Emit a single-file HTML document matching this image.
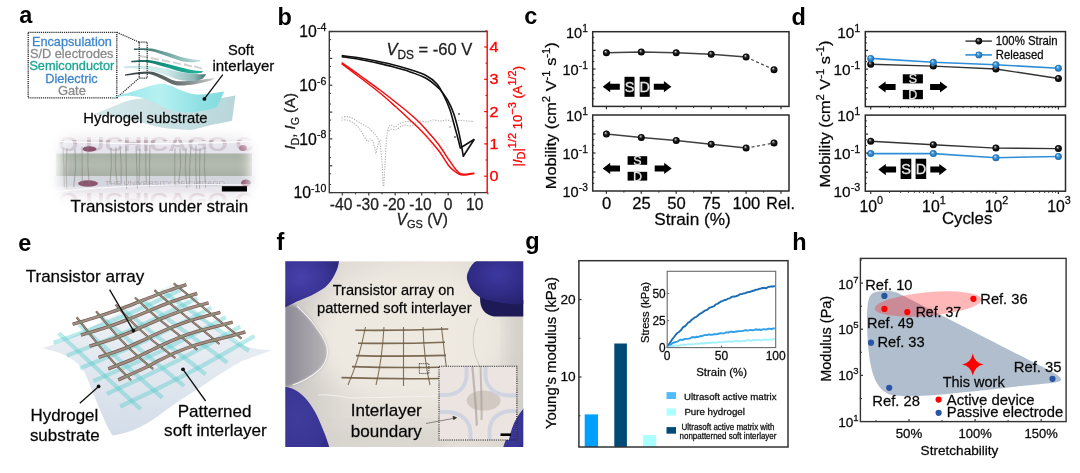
<!DOCTYPE html>
<html><head><meta charset="utf-8"><title>Figure</title>
<style>html,body{margin:0;padding:0;background:#fff;}svg{display:block;}
text{font-family:"Liberation Sans", Arial, sans-serif;}</style></head>
<body><svg width="1080" height="473" viewBox="0 0 1080 473">
<rect width="1080" height="473" fill="#fff"/>
<defs>
<radialGradient id="gk" cx="0.5" cy="0.5" r="0.5" fx="0.36" fy="0.3"><stop offset="0" stop-color="#f4f4f4"/><stop offset="0.22" stop-color="#7a7a7a"/><stop offset="0.5" stop-color="#1a1a1a"/><stop offset="1" stop-color="#000"/></radialGradient>
<radialGradient id="gb" cx="0.5" cy="0.5" r="0.5" fx="0.36" fy="0.3"><stop offset="0" stop-color="#e8f4ff"/><stop offset="0.25" stop-color="#6fb3e6"/><stop offset="0.55" stop-color="#2f8ad0"/><stop offset="1" stop-color="#1d69a8"/></radialGradient>
</defs>
<text x="19.3" y="22.8" font-size="23.5" fill="#000" font-weight="bold" >a</text>
<text x="277.6" y="25.2" font-size="23.5" fill="#000" font-weight="bold" >b</text>
<text x="524.3" y="23.5" font-size="23.5" fill="#000" font-weight="bold" >c</text>
<text x="791.5" y="24.9" font-size="23.5" fill="#000" font-weight="bold" >d</text>
<text x="18.2" y="250.8" font-size="23.5" fill="#000" font-weight="bold" >e</text>
<text x="276.5" y="249.5" font-size="23.5" fill="#000" font-weight="bold" >f</text>
<text x="525.2" y="248.8" font-size="23.5" fill="#000" font-weight="bold" >g</text>
<text x="792.3" y="249.5" font-size="23.5" fill="#000" font-weight="bold" >h</text>
<path d="M341.6,117.5 C342.5,117.3 345.3,116.4 347.0,116.5 C348.7,116.6 350.3,117.2 352.0,118.0 C353.7,118.8 355.3,120.0 357.0,121.0 C358.7,122.0 360.5,123.2 362.0,124.0 C363.5,124.8 364.8,125.3 366.0,126.0 C367.2,126.7 368.0,127.2 369.0,128.0 C370.0,128.8 371.1,130.0 372.0,131.0 C372.9,132.0 373.7,133.0 374.5,134.0 C375.3,135.0 376.2,135.8 377.0,137.0 C377.8,138.2 378.4,139.3 379.0,141.0 C379.6,142.7 380.0,143.5 380.5,147.0 C381.0,150.5 381.5,155.4 382.0,162.0 C382.5,168.6 383.0,186.0 383.5,186.5 C384.0,187.0 384.5,172.8 385.0,165.0 C385.5,157.2 385.9,146.2 386.5,140.0 C387.1,133.8 387.6,130.5 388.3,128.0 C389.1,125.5 389.9,125.2 391.0,125.0 C392.1,124.8 393.7,127.2 395.0,127.0 C396.3,126.8 397.5,124.8 399.0,124.0 C400.5,123.2 402.3,122.4 404.0,122.0 C405.7,121.6 407.2,121.3 409.0,121.5 C410.8,121.7 413.0,123.1 415.0,123.0 C417.0,122.9 419.0,121.2 421.0,121.0 C423.0,120.8 425.0,122.2 427.0,122.0 C429.0,121.8 430.8,120.2 433.0,120.0 C435.2,119.8 437.7,121.0 440.0,121.0 C442.3,121.0 444.8,119.9 447.0,120.0 C449.2,120.1 450.8,121.4 453.0,121.5 C455.2,121.6 457.7,120.6 460.0,120.5 C462.3,120.4 464.7,120.8 467.0,121.0 C469.3,121.2 472.8,121.4 474.0,121.5" fill="none" stroke="#b2b2b2" stroke-width="1.1" stroke-dasharray="1.3 1.3"/>
<path d="M341.6,120.0 C342.5,120.0 345.3,119.7 347.0,120.0 C348.7,120.3 350.3,121.0 352.0,122.0 C353.7,123.0 355.5,124.5 357.0,126.0 C358.5,127.5 359.8,129.3 361.0,131.0 C362.2,132.7 362.9,134.2 364.0,136.0 C365.1,137.8 366.6,141.0 367.6,141.5 C368.6,142.0 369.2,139.1 370.0,139.0 C370.8,138.9 371.8,139.7 372.5,141.0 C373.2,142.3 373.9,144.9 374.5,147.0 C375.1,149.1 375.5,153.7 376.0,153.5 C376.5,153.3 376.9,148.1 377.5,146.0 C378.1,143.9 378.9,142.0 379.5,141.0 C380.1,140.0 380.8,140.2 381.0,140.0" fill="none" stroke="#b2b2b2" stroke-width="1.1" stroke-dasharray="1.3 1.3"/>
<path d="M388.5,131.0 C389.1,130.7 390.8,129.2 392.0,129.0 C393.2,128.8 394.7,130.3 396.0,130.0 C397.3,129.7 398.5,127.8 400.0,127.0 C401.5,126.2 403.3,125.2 405.0,125.0 C406.7,124.8 408.2,126.2 410.0,126.0 C411.8,125.8 415.0,124.3 416.0,124.0" fill="none" stroke="#b2b2b2" stroke-width="1.1" stroke-dasharray="1.3 1.3"/>
<path d="M341.7,55.5 C344.8,55.9 354.4,57.1 360.0,58.0 C365.6,58.9 369.7,59.7 375.0,60.8 C380.3,61.9 386.3,63.1 392.0,64.5 C397.7,65.9 403.3,67.5 409.0,69.3 C414.7,71.1 421.3,73.0 426.0,75.5 C430.7,78.0 433.9,80.4 437.0,84.0 C440.1,87.6 442.3,92.7 444.5,97.0 C446.7,101.3 448.3,105.2 450.0,110.0 C451.7,114.8 453.2,121.3 454.5,126.0 C455.8,130.7 456.8,134.3 457.8,138.0 C458.8,141.7 459.9,146.3 460.3,148.0 L474.3,139.2" fill="none" stroke="#111" stroke-width="1.6" stroke-linejoin="round"/>
<path d="M341.7,56.6 C344.8,57.1 354.4,58.5 360.0,59.5 C365.6,60.5 369.7,61.3 375.0,62.5 C380.3,63.7 386.3,65.0 392.0,66.5 C397.7,68.0 403.3,69.5 409.0,71.4 C414.7,73.4 420.9,75.3 426.0,78.2 C431.1,81.1 435.9,85.4 439.5,89.0 C443.1,92.6 445.2,96.0 447.5,100.0 C449.8,104.0 451.8,108.3 453.5,113.0 C455.2,117.7 456.6,123.2 457.8,128.0 C459.0,132.8 459.9,137.3 460.8,142.0 C461.7,146.7 462.9,153.9 463.3,156.3 L474.3,139.2" fill="none" stroke="#111" stroke-width="1.6" stroke-linejoin="round"/>
<path d="M341.7,62.6 C344.8,64.8 353.6,70.9 360.0,75.5 C366.4,80.1 374.0,85.5 380.0,90.0 C386.0,94.5 391.2,98.7 396.0,102.5 C400.8,106.3 405.0,109.6 409.0,113.0 C413.0,116.4 416.6,119.6 420.0,123.0 C423.4,126.4 425.9,129.5 429.1,133.2 C432.3,136.9 435.6,140.5 439.0,145.0 C442.4,149.5 446.5,156.4 449.2,160.3 C451.9,164.2 453.4,166.4 455.0,168.5 C456.6,170.6 457.7,171.8 459.0,172.8 C460.3,173.8 461.5,174.1 463.0,174.3 C464.5,174.5 466.1,174.2 468.0,174.0 C469.9,173.8 473.2,173.3 474.3,173.2" fill="none" stroke="#f01010" stroke-width="1.5" />
<path d="M341.7,63.6 C344.8,65.9 353.6,72.6 360.0,77.5 C366.4,82.4 374.0,88.1 380.0,93.0 C386.0,97.9 391.2,102.7 396.0,107.0 C400.8,111.3 405.0,115.2 409.0,119.0 C413.0,122.8 416.6,126.1 420.0,129.5 C423.4,132.9 425.9,135.6 429.1,139.2 C432.3,142.8 435.6,146.5 439.0,151.0 C442.4,155.5 446.5,162.9 449.2,166.3 C451.9,169.7 453.4,170.2 455.0,171.5 C456.6,172.8 457.7,173.4 459.0,174.0 C460.3,174.6 461.5,174.8 463.0,174.9 C464.5,175.0 466.1,174.8 468.0,174.6 C469.9,174.3 473.2,173.6 474.3,173.4" fill="none" stroke="#f01010" stroke-width="1.5" />
<path d="M428,137 L437,158" fill="none" stroke="#f7a0a0" stroke-width="0.8" stroke-dasharray="1 1.5"/>
<path d="M439,137 L449,151" fill="none" stroke="#f7a0a0" stroke-width="0.8" stroke-dasharray="1 1.5"/>
<circle cx="459.0" cy="114.0" r="0.9" fill="#555" />
<circle cx="455.0" cy="137.0" r="0.9" fill="#555" />
<circle cx="450.0" cy="127.0" r="0.7" fill="#777" />
<path d="M487.2,31.5 L329.3,31.5 L329.3,192.6 L487.2,192.6" fill="none" stroke="#3a3a3a" stroke-width="1.4" />
<line x1="487.2" y1="30.8" x2="487.2" y2="193.3" stroke="#f00" stroke-width="1.4" />
<line x1="342.3" y1="192.6" x2="342.3" y2="195.4" stroke="#3a3a3a" stroke-width="1.2" />
<line x1="368.8" y1="192.6" x2="368.8" y2="195.4" stroke="#3a3a3a" stroke-width="1.2" />
<line x1="395.2" y1="192.6" x2="395.2" y2="195.4" stroke="#3a3a3a" stroke-width="1.2" />
<line x1="421.7" y1="192.6" x2="421.7" y2="195.4" stroke="#3a3a3a" stroke-width="1.2" />
<line x1="448.2" y1="192.6" x2="448.2" y2="195.4" stroke="#3a3a3a" stroke-width="1.2" />
<line x1="474.7" y1="192.6" x2="474.7" y2="195.4" stroke="#3a3a3a" stroke-width="1.2" />
<line x1="355.5" y1="192.6" x2="355.5" y2="194.4" stroke="#3a3a3a" stroke-width="1.0" />
<line x1="382.0" y1="192.6" x2="382.0" y2="194.4" stroke="#3a3a3a" stroke-width="1.0" />
<line x1="408.5" y1="192.6" x2="408.5" y2="194.4" stroke="#3a3a3a" stroke-width="1.0" />
<line x1="435.0" y1="192.6" x2="435.0" y2="194.4" stroke="#3a3a3a" stroke-width="1.0" />
<line x1="461.4" y1="192.6" x2="461.4" y2="194.4" stroke="#3a3a3a" stroke-width="1.0" />
<line x1="487.9" y1="192.6" x2="487.9" y2="194.4" stroke="#3a3a3a" stroke-width="1.0" />
<line x1="329.3" y1="31.5" x2="332.3" y2="31.5" stroke="#3a3a3a" stroke-width="1.2" />
<line x1="329.3" y1="50.3" x2="331.1" y2="50.3" stroke="#3a3a3a" stroke-width="1.0" />
<line x1="329.3" y1="39.6" x2="331.1" y2="39.6" stroke="#3a3a3a" stroke-width="1.0" />
<line x1="329.3" y1="58.4" x2="332.3" y2="58.4" stroke="#3a3a3a" stroke-width="1.2" />
<line x1="329.3" y1="77.1" x2="331.1" y2="77.1" stroke="#3a3a3a" stroke-width="1.0" />
<line x1="329.3" y1="66.4" x2="331.1" y2="66.4" stroke="#3a3a3a" stroke-width="1.0" />
<line x1="329.3" y1="85.2" x2="332.3" y2="85.2" stroke="#3a3a3a" stroke-width="1.2" />
<line x1="329.3" y1="104.0" x2="331.1" y2="104.0" stroke="#3a3a3a" stroke-width="1.0" />
<line x1="329.3" y1="93.3" x2="331.1" y2="93.3" stroke="#3a3a3a" stroke-width="1.0" />
<line x1="329.3" y1="112.1" x2="332.3" y2="112.1" stroke="#3a3a3a" stroke-width="1.2" />
<line x1="329.3" y1="130.8" x2="331.1" y2="130.8" stroke="#3a3a3a" stroke-width="1.0" />
<line x1="329.3" y1="120.1" x2="331.1" y2="120.1" stroke="#3a3a3a" stroke-width="1.0" />
<line x1="329.3" y1="138.9" x2="332.3" y2="138.9" stroke="#3a3a3a" stroke-width="1.2" />
<line x1="329.3" y1="157.7" x2="331.1" y2="157.7" stroke="#3a3a3a" stroke-width="1.0" />
<line x1="329.3" y1="147.0" x2="331.1" y2="147.0" stroke="#3a3a3a" stroke-width="1.0" />
<line x1="329.3" y1="165.8" x2="332.3" y2="165.8" stroke="#3a3a3a" stroke-width="1.2" />
<line x1="329.3" y1="184.5" x2="331.1" y2="184.5" stroke="#3a3a3a" stroke-width="1.0" />
<line x1="329.3" y1="173.8" x2="331.1" y2="173.8" stroke="#3a3a3a" stroke-width="1.0" />
<line x1="329.3" y1="192.6" x2="332.3" y2="192.6" stroke="#3a3a3a" stroke-width="1.2" />
<line x1="487.2" y1="176.2" x2="484.2" y2="176.2" stroke="#f00" stroke-width="1.2" />
<line x1="487.2" y1="160.0" x2="485.4" y2="160.0" stroke="#f00" stroke-width="1.0" />
<line x1="487.2" y1="143.9" x2="484.2" y2="143.9" stroke="#f00" stroke-width="1.2" />
<line x1="487.2" y1="127.8" x2="485.4" y2="127.8" stroke="#f00" stroke-width="1.0" />
<line x1="487.2" y1="111.6" x2="484.2" y2="111.6" stroke="#f00" stroke-width="1.2" />
<line x1="487.2" y1="95.4" x2="485.4" y2="95.4" stroke="#f00" stroke-width="1.0" />
<line x1="487.2" y1="79.3" x2="484.2" y2="79.3" stroke="#f00" stroke-width="1.2" />
<line x1="487.2" y1="63.2" x2="485.4" y2="63.2" stroke="#f00" stroke-width="1.0" />
<line x1="487.2" y1="47.0" x2="484.2" y2="47.0" stroke="#f00" stroke-width="1.2" />
<line x1="487.2" y1="30.8" x2="485.4" y2="30.8" stroke="#f00" stroke-width="1.0" />
<line x1="487.2" y1="192.3" x2="485.4" y2="192.3" stroke="#f00" stroke-width="1.0" />
<text x="341.1" y="209.6" font-size="15.6" fill="#222" stroke="#222" stroke-width="0.28" text-anchor="middle" >-40</text>
<text x="367.6" y="209.6" font-size="15.6" fill="#222" stroke="#222" stroke-width="0.28" text-anchor="middle" >-30</text>
<text x="394.0" y="209.6" font-size="15.6" fill="#222" stroke="#222" stroke-width="0.28" text-anchor="middle" >-20</text>
<text x="420.5" y="209.6" font-size="15.6" fill="#222" stroke="#222" stroke-width="0.28" text-anchor="middle" >-10</text>
<text x="448.2" y="209.6" font-size="15.6" fill="#222" stroke="#222" stroke-width="0.28" text-anchor="middle" >0</text>
<text x="474.7" y="209.6" font-size="15.6" fill="#222" stroke="#222" stroke-width="0.28" text-anchor="middle" >10</text>
<text x="326.3" y="37.3" font-size="15.8" stroke="#1e1e1e" stroke-width="0.28" text-anchor="end" >10<tspan dy="-6.5" font-size="10.6">-4</tspan></text>
<text x="326.3" y="91.0" font-size="15.8" stroke="#1e1e1e" stroke-width="0.28" text-anchor="end" >10<tspan dy="-6.5" font-size="10.6">-6</tspan></text>
<text x="326.3" y="144.7" font-size="15.8" stroke="#1e1e1e" stroke-width="0.28" text-anchor="end" >10<tspan dy="-6.5" font-size="10.6">-8</tspan></text>
<text x="326.3" y="198.4" font-size="15.8" stroke="#1e1e1e" stroke-width="0.28" text-anchor="end" >10<tspan dy="-6.5" font-size="10.6">-10</tspan></text>
<text x="489.6" y="181.2" font-size="13.8" fill="#f00" stroke="#f00" stroke-width="0.28" textLength="9.0" lengthAdjust="spacingAndGlyphs" >0</text>
<text x="489.6" y="148.9" font-size="13.8" fill="#f00" stroke="#f00" stroke-width="0.28" textLength="9.0" lengthAdjust="spacingAndGlyphs" >1</text>
<text x="489.6" y="116.6" font-size="13.8" fill="#f00" stroke="#f00" stroke-width="0.28" textLength="9.0" lengthAdjust="spacingAndGlyphs" >2</text>
<text x="489.6" y="84.3" font-size="13.8" fill="#f00" stroke="#f00" stroke-width="0.28" textLength="9.0" lengthAdjust="spacingAndGlyphs" >3</text>
<text x="489.6" y="52.0" font-size="13.8" fill="#f00" stroke="#f00" stroke-width="0.28" textLength="9.0" lengthAdjust="spacingAndGlyphs" >4</text>
<text x="396.5" y="224.5" font-size="15.6" fill="#222" stroke="#222" stroke-width="0.28" ><tspan font-style="italic">V</tspan><tspan dy="3.5" font-size="11">GS</tspan><tspan dy="-3.5"> (V)</tspan></text>
<text x="295.0" y="149.5" font-size="15.0" fill="#222" stroke="#222" stroke-width="0.28" transform="rotate(-90 295.0 149.5)" ><tspan font-style="italic">I</tspan><tspan dy="3.5" font-size="10.5">D</tspan><tspan dy="-3.5">, </tspan><tspan font-style="italic">I</tspan><tspan dy="3.5" font-size="10.5">G</tspan><tspan dy="-3.5"> (A)</tspan></text>
<text x="521.5" y="166.5" font-size="13.0" fill="#f00" stroke="#f00" stroke-width="0.28" transform="rotate(-90 521.5 166.5)" >|<tspan font-style="italic">I</tspan><tspan dy="3.5" font-size="11">D</tspan><tspan dy="-3.5">|</tspan><tspan dy="-6" font-size="11">1/2</tspan><tspan dy="6"> 10</tspan><tspan dy="-6" font-size="11">−3</tspan><tspan dy="6"> (A</tspan><tspan dy="-6" font-size="11">1/2</tspan><tspan dy="6">)</tspan></text>
<text x="386.4" y="55.4" font-size="16.8" fill="#222" stroke="#222" stroke-width="0.28" textLength="86.0" lengthAdjust="spacingAndGlyphs" ><tspan font-style="italic">V</tspan><tspan dy="4" font-size="12">DS</tspan><tspan dy="-4"> = -60 V</tspan></text>
<path d="M606.4,52.8 L641.3,52.1 L676.2,52.8 L711.2,54.2 L746.1,57.0" fill="none" stroke="#404040" stroke-width="1.5" />
<path d="M746.1,57.0 L774.0,69.7" fill="none" stroke="#505050" stroke-width="1.3" stroke-dasharray="3 2.5"/>
<circle cx="606.4" cy="52.8" r="3.5" fill="url(#gk)"/>
<circle cx="641.3" cy="52.1" r="3.5" fill="url(#gk)"/>
<circle cx="676.2" cy="52.8" r="3.5" fill="url(#gk)"/>
<circle cx="711.2" cy="54.2" r="3.5" fill="url(#gk)"/>
<circle cx="746.1" cy="57.0" r="3.5" fill="url(#gk)"/>
<circle cx="774.0" cy="69.7" r="3.5" fill="url(#gk)"/>
<rect x="592.7" y="31.7" width="196.3" height="74.7" fill="none" stroke="#2a2a2a" stroke-width="1.5" />
<line x1="606.4" y1="106.4" x2="606.4" y2="109.2" stroke="#2a2a2a" stroke-width="1.2" />
<line x1="641.3" y1="106.4" x2="641.3" y2="109.2" stroke="#2a2a2a" stroke-width="1.2" />
<line x1="676.2" y1="106.4" x2="676.2" y2="109.2" stroke="#2a2a2a" stroke-width="1.2" />
<line x1="711.2" y1="106.4" x2="711.2" y2="109.2" stroke="#2a2a2a" stroke-width="1.2" />
<line x1="746.1" y1="106.4" x2="746.1" y2="109.2" stroke="#2a2a2a" stroke-width="1.2" />
<line x1="781.0" y1="106.4" x2="781.0" y2="109.2" stroke="#2a2a2a" stroke-width="1.2" />
<line x1="623.9" y1="106.4" x2="623.9" y2="108.0" stroke="#2a2a2a" stroke-width="1.0" />
<line x1="658.8" y1="106.4" x2="658.8" y2="108.0" stroke="#2a2a2a" stroke-width="1.0" />
<line x1="693.7" y1="106.4" x2="693.7" y2="108.0" stroke="#2a2a2a" stroke-width="1.0" />
<line x1="728.6" y1="106.4" x2="728.6" y2="108.0" stroke="#2a2a2a" stroke-width="1.0" />
<line x1="763.6" y1="106.4" x2="763.6" y2="108.0" stroke="#2a2a2a" stroke-width="1.0" />
<line x1="592.7" y1="50.4" x2="595.5" y2="50.4" stroke="#2a2a2a" stroke-width="1.2" />
<line x1="592.7" y1="69.0" x2="595.5" y2="69.0" stroke="#2a2a2a" stroke-width="1.2" />
<line x1="592.7" y1="87.7" x2="595.5" y2="87.7" stroke="#2a2a2a" stroke-width="1.2" />
<line x1="592.7" y1="37.3" x2="594.3" y2="37.3" stroke="#2a2a2a" stroke-width="1.0" />
<line x1="592.7" y1="42.9" x2="594.3" y2="42.9" stroke="#2a2a2a" stroke-width="1.0" />
<line x1="592.7" y1="56.0" x2="594.3" y2="56.0" stroke="#2a2a2a" stroke-width="1.0" />
<line x1="592.7" y1="61.6" x2="594.3" y2="61.6" stroke="#2a2a2a" stroke-width="1.0" />
<line x1="592.7" y1="74.7" x2="594.3" y2="74.7" stroke="#2a2a2a" stroke-width="1.0" />
<line x1="592.7" y1="80.3" x2="594.3" y2="80.3" stroke="#2a2a2a" stroke-width="1.0" />
<line x1="592.7" y1="93.3" x2="594.3" y2="93.3" stroke="#2a2a2a" stroke-width="1.0" />
<line x1="592.7" y1="98.9" x2="594.3" y2="98.9" stroke="#2a2a2a" stroke-width="1.0" />
<text x="587.8" y="37.7" font-size="14.6" stroke="#1e1e1e" stroke-width="0.28" text-anchor="end" >10<tspan dy="-6.0" font-size="10.2">1</tspan></text>
<text x="587.8" y="75.0" font-size="14.6" stroke="#1e1e1e" stroke-width="0.28" text-anchor="end" >10<tspan dy="-6.0" font-size="10.2">-1</tspan></text>
<path d="M606.4,134.1 L641.3,137.4 L676.2,140.5 L711.2,144.3 L746.1,148.1" fill="none" stroke="#404040" stroke-width="1.5" />
<path d="M746.1,148.1 L774.0,143.0" fill="none" stroke="#505050" stroke-width="1.3" stroke-dasharray="3 2.5"/>
<circle cx="606.4" cy="134.1" r="3.5" fill="url(#gk)"/>
<circle cx="641.3" cy="137.4" r="3.5" fill="url(#gk)"/>
<circle cx="676.2" cy="140.5" r="3.5" fill="url(#gk)"/>
<circle cx="711.2" cy="144.3" r="3.5" fill="url(#gk)"/>
<circle cx="746.1" cy="148.1" r="3.5" fill="url(#gk)"/>
<circle cx="774.0" cy="143.0" r="3.5" fill="url(#gk)"/>
<rect x="592.7" y="115.0" width="196.3" height="76.0" fill="none" stroke="#2a2a2a" stroke-width="1.5" />
<line x1="606.4" y1="191.0" x2="606.4" y2="193.8" stroke="#2a2a2a" stroke-width="1.2" />
<line x1="641.3" y1="191.0" x2="641.3" y2="193.8" stroke="#2a2a2a" stroke-width="1.2" />
<line x1="676.2" y1="191.0" x2="676.2" y2="193.8" stroke="#2a2a2a" stroke-width="1.2" />
<line x1="711.2" y1="191.0" x2="711.2" y2="193.8" stroke="#2a2a2a" stroke-width="1.2" />
<line x1="746.1" y1="191.0" x2="746.1" y2="193.8" stroke="#2a2a2a" stroke-width="1.2" />
<line x1="781.0" y1="191.0" x2="781.0" y2="193.8" stroke="#2a2a2a" stroke-width="1.2" />
<line x1="623.9" y1="191.0" x2="623.9" y2="192.6" stroke="#2a2a2a" stroke-width="1.0" />
<line x1="658.8" y1="191.0" x2="658.8" y2="192.6" stroke="#2a2a2a" stroke-width="1.0" />
<line x1="693.7" y1="191.0" x2="693.7" y2="192.6" stroke="#2a2a2a" stroke-width="1.0" />
<line x1="728.6" y1="191.0" x2="728.6" y2="192.6" stroke="#2a2a2a" stroke-width="1.0" />
<line x1="763.6" y1="191.0" x2="763.6" y2="192.6" stroke="#2a2a2a" stroke-width="1.0" />
<line x1="592.7" y1="134.0" x2="595.5" y2="134.0" stroke="#2a2a2a" stroke-width="1.2" />
<line x1="592.7" y1="153.0" x2="595.5" y2="153.0" stroke="#2a2a2a" stroke-width="1.2" />
<line x1="592.7" y1="172.0" x2="595.5" y2="172.0" stroke="#2a2a2a" stroke-width="1.2" />
<line x1="592.7" y1="120.7" x2="594.3" y2="120.7" stroke="#2a2a2a" stroke-width="1.0" />
<line x1="592.7" y1="126.4" x2="594.3" y2="126.4" stroke="#2a2a2a" stroke-width="1.0" />
<line x1="592.7" y1="139.7" x2="594.3" y2="139.7" stroke="#2a2a2a" stroke-width="1.0" />
<line x1="592.7" y1="145.4" x2="594.3" y2="145.4" stroke="#2a2a2a" stroke-width="1.0" />
<line x1="592.7" y1="158.7" x2="594.3" y2="158.7" stroke="#2a2a2a" stroke-width="1.0" />
<line x1="592.7" y1="164.4" x2="594.3" y2="164.4" stroke="#2a2a2a" stroke-width="1.0" />
<line x1="592.7" y1="177.7" x2="594.3" y2="177.7" stroke="#2a2a2a" stroke-width="1.0" />
<line x1="592.7" y1="183.4" x2="594.3" y2="183.4" stroke="#2a2a2a" stroke-width="1.0" />
<text x="587.8" y="121.0" font-size="14.6" stroke="#1e1e1e" stroke-width="0.28" text-anchor="end" >10<tspan dy="-6.0" font-size="10.2">1</tspan></text>
<text x="587.8" y="159.0" font-size="14.6" stroke="#1e1e1e" stroke-width="0.28" text-anchor="end" >10<tspan dy="-6.0" font-size="10.2">-1</tspan></text>
<text x="587.8" y="197.0" font-size="14.6" stroke="#1e1e1e" stroke-width="0.28" text-anchor="end" >10<tspan dy="-6.0" font-size="10.2">-3</tspan></text>
<path d="M602.7,86.7 L610.2,81.1 L610.2,83.7 L619.8,83.7 L619.8,89.7 L610.2,89.7 L610.2,92.3Z" fill="#000" stroke="none" stroke-width="1" />
<rect x="624.5" y="76.8" width="10.0" height="20.0" fill="#000" stroke="none" stroke-width="1" />
<text x="629.5" y="92.0" font-size="14.5" fill="#e4e4e4" text-anchor="middle" stroke="#e4e4e4" stroke-width="0.3">S</text>
<rect x="639.7" y="76.8" width="10.0" height="20.0" fill="#000" stroke="none" stroke-width="1" />
<text x="644.7" y="92.0" font-size="14.5" fill="#e4e4e4" text-anchor="middle" stroke="#e4e4e4" stroke-width="0.3">D</text>
<path d="M671.4,86.7 L663.9,81.1 L663.9,83.7 L653.8,83.7 L653.8,89.7 L663.9,89.7 L663.9,92.3Z" fill="#000" stroke="none" stroke-width="1" />
<path d="M602.7,168.4 L610.2,162.8 L610.2,165.4 L620.0,165.4 L620.0,171.4 L610.2,171.4 L610.2,174.0Z" fill="#000" stroke="none" stroke-width="1" />
<rect x="627.6" y="156.2" width="19.6" height="8.6" fill="#000" stroke="none" stroke-width="1" />
<text x="637.4" y="165.0" font-size="12.5" fill="#e4e4e4" text-anchor="middle" stroke="#e4e4e4" stroke-width="0.3">S</text>
<rect x="627.6" y="171.8" width="19.6" height="8.8" fill="#000" stroke="none" stroke-width="1" />
<text x="637.4" y="180.7" font-size="12.5" fill="#e4e4e4" text-anchor="middle" stroke="#e4e4e4" stroke-width="0.3">D</text>
<path d="M671.7,168.4 L664.2,162.8 L664.2,165.4 L654.7,165.4 L654.7,171.4 L664.2,171.4 L664.2,174.0Z" fill="#000" stroke="none" stroke-width="1" />
<text x="606.7" y="209.0" font-size="16.6" stroke="#1e1e1e" stroke-width="0.28" text-anchor="middle" >0</text>
<text x="641.6" y="209.0" font-size="16.6" stroke="#1e1e1e" stroke-width="0.28" text-anchor="middle" >25</text>
<text x="676.5" y="209.0" font-size="16.6" stroke="#1e1e1e" stroke-width="0.28" text-anchor="middle" >50</text>
<text x="711.5" y="209.0" font-size="16.6" stroke="#1e1e1e" stroke-width="0.28" text-anchor="middle" >75</text>
<text x="746.4" y="209.0" font-size="16.6" stroke="#1e1e1e" stroke-width="0.28" text-anchor="middle" >100</text>
<text x="780.6" y="209.0" font-size="16.2" stroke="#1e1e1e" stroke-width="0.28" text-anchor="middle" textLength="28.5" lengthAdjust="spacingAndGlyphs" >Rel.</text>
<text x="654.3" y="224.5" font-size="16.3" stroke="#1e1e1e" stroke-width="0.28" textLength="76.5" lengthAdjust="spacingAndGlyphs" >Strain (%)</text>
<text x="555.8" y="189.2" font-size="15.2" stroke="#1e1e1e" stroke-width="0.28" textLength="147.0" lengthAdjust="spacingAndGlyphs" transform="rotate(-90 555.8 189.2)" >Mobility (cm<tspan dy="-6" font-size="10.5">2</tspan><tspan dy="6"> V</tspan><tspan dy="-6" font-size="10.5">-1</tspan><tspan dy="6"> s</tspan><tspan dy="-6" font-size="10.5">-1</tspan><tspan dy="6">)</tspan></text>
<path d="M870.7,64.2 L933.3,66.1 L995.9,69.0 L1058.4,78.5" fill="none" stroke="#333" stroke-width="1.4" />
<path d="M870.7,58.4 L933.3,62.3 L995.9,64.8 L1058.4,68.2" fill="none" stroke="#2f8fd6" stroke-width="1.6" />
<circle cx="870.7" cy="64.2" r="3.5" fill="url(#gk)"/>
<circle cx="933.3" cy="66.1" r="3.5" fill="url(#gk)"/>
<circle cx="995.9" cy="69.0" r="3.5" fill="url(#gk)"/>
<circle cx="1058.4" cy="78.5" r="3.5" fill="url(#gk)"/>
<circle cx="870.7" cy="58.4" r="3.5" fill="url(#gb)"/>
<circle cx="933.3" cy="62.3" r="3.5" fill="url(#gb)"/>
<circle cx="995.9" cy="64.8" r="3.5" fill="url(#gb)"/>
<circle cx="1058.4" cy="68.2" r="3.5" fill="url(#gb)"/>
<rect x="865.3" y="31.6" width="200.2" height="75.0" fill="none" stroke="#2a2a2a" stroke-width="1.5" />
<line x1="870.7" y1="106.6" x2="870.7" y2="109.4" stroke="#2a2a2a" stroke-width="1.2" />
<line x1="933.3" y1="106.6" x2="933.3" y2="109.4" stroke="#2a2a2a" stroke-width="1.2" />
<line x1="995.9" y1="106.6" x2="995.9" y2="109.4" stroke="#2a2a2a" stroke-width="1.2" />
<line x1="1058.4" y1="106.6" x2="1058.4" y2="109.4" stroke="#2a2a2a" stroke-width="1.2" />
<line x1="889.5" y1="106.6" x2="889.5" y2="108.2" stroke="#2a2a2a" stroke-width="1.0" />
<line x1="900.6" y1="106.6" x2="900.6" y2="108.2" stroke="#2a2a2a" stroke-width="1.0" />
<line x1="908.4" y1="106.6" x2="908.4" y2="108.2" stroke="#2a2a2a" stroke-width="1.0" />
<line x1="914.4" y1="106.6" x2="914.4" y2="108.2" stroke="#2a2a2a" stroke-width="1.0" />
<line x1="919.4" y1="106.6" x2="919.4" y2="108.2" stroke="#2a2a2a" stroke-width="1.0" />
<line x1="923.6" y1="106.6" x2="923.6" y2="108.2" stroke="#2a2a2a" stroke-width="1.0" />
<line x1="927.2" y1="106.6" x2="927.2" y2="108.2" stroke="#2a2a2a" stroke-width="1.0" />
<line x1="930.4" y1="106.6" x2="930.4" y2="108.2" stroke="#2a2a2a" stroke-width="1.0" />
<line x1="952.1" y1="106.6" x2="952.1" y2="108.2" stroke="#2a2a2a" stroke-width="1.0" />
<line x1="963.1" y1="106.6" x2="963.1" y2="108.2" stroke="#2a2a2a" stroke-width="1.0" />
<line x1="971.0" y1="106.6" x2="971.0" y2="108.2" stroke="#2a2a2a" stroke-width="1.0" />
<line x1="977.0" y1="106.6" x2="977.0" y2="108.2" stroke="#2a2a2a" stroke-width="1.0" />
<line x1="982.0" y1="106.6" x2="982.0" y2="108.2" stroke="#2a2a2a" stroke-width="1.0" />
<line x1="986.2" y1="106.6" x2="986.2" y2="108.2" stroke="#2a2a2a" stroke-width="1.0" />
<line x1="989.8" y1="106.6" x2="989.8" y2="108.2" stroke="#2a2a2a" stroke-width="1.0" />
<line x1="993.0" y1="106.6" x2="993.0" y2="108.2" stroke="#2a2a2a" stroke-width="1.0" />
<line x1="1014.7" y1="106.6" x2="1014.7" y2="108.2" stroke="#2a2a2a" stroke-width="1.0" />
<line x1="1025.7" y1="106.6" x2="1025.7" y2="108.2" stroke="#2a2a2a" stroke-width="1.0" />
<line x1="1033.5" y1="106.6" x2="1033.5" y2="108.2" stroke="#2a2a2a" stroke-width="1.0" />
<line x1="1039.6" y1="106.6" x2="1039.6" y2="108.2" stroke="#2a2a2a" stroke-width="1.0" />
<line x1="1044.6" y1="106.6" x2="1044.6" y2="108.2" stroke="#2a2a2a" stroke-width="1.0" />
<line x1="1048.7" y1="106.6" x2="1048.7" y2="108.2" stroke="#2a2a2a" stroke-width="1.0" />
<line x1="1052.4" y1="106.6" x2="1052.4" y2="108.2" stroke="#2a2a2a" stroke-width="1.0" />
<line x1="1055.6" y1="106.6" x2="1055.6" y2="108.2" stroke="#2a2a2a" stroke-width="1.0" />
<line x1="865.3" y1="50.4" x2="868.1" y2="50.4" stroke="#2a2a2a" stroke-width="1.2" />
<line x1="865.3" y1="69.1" x2="868.1" y2="69.1" stroke="#2a2a2a" stroke-width="1.2" />
<line x1="865.3" y1="87.8" x2="868.1" y2="87.8" stroke="#2a2a2a" stroke-width="1.2" />
<line x1="865.3" y1="37.2" x2="866.9" y2="37.2" stroke="#2a2a2a" stroke-width="1.0" />
<line x1="865.3" y1="42.9" x2="866.9" y2="42.9" stroke="#2a2a2a" stroke-width="1.0" />
<line x1="865.3" y1="56.0" x2="866.9" y2="56.0" stroke="#2a2a2a" stroke-width="1.0" />
<line x1="865.3" y1="61.6" x2="866.9" y2="61.6" stroke="#2a2a2a" stroke-width="1.0" />
<line x1="865.3" y1="74.7" x2="866.9" y2="74.7" stroke="#2a2a2a" stroke-width="1.0" />
<line x1="865.3" y1="80.3" x2="866.9" y2="80.3" stroke="#2a2a2a" stroke-width="1.0" />
<line x1="865.3" y1="93.5" x2="866.9" y2="93.5" stroke="#2a2a2a" stroke-width="1.0" />
<line x1="865.3" y1="99.1" x2="866.9" y2="99.1" stroke="#2a2a2a" stroke-width="1.0" />
<text x="860.3" y="37.6" font-size="15.4" stroke="#1e1e1e" stroke-width="0.28" text-anchor="end" >10<tspan dy="-6.0" font-size="10.8">1</tspan></text>
<text x="860.3" y="75.1" font-size="15.4" stroke="#1e1e1e" stroke-width="0.28" text-anchor="end" >10<tspan dy="-6.0" font-size="10.8">-1</tspan></text>
<path d="M870.7,141.2 L933.3,144.7 L995.9,148.1 L1058.4,148.6" fill="none" stroke="#333" stroke-width="1.4" />
<path d="M870.7,153.6 L933.3,153.6 L995.9,157.7 L1058.4,156.5" fill="none" stroke="#2f8fd6" stroke-width="1.6" />
<circle cx="870.7" cy="141.2" r="3.5" fill="url(#gk)"/>
<circle cx="933.3" cy="144.7" r="3.5" fill="url(#gk)"/>
<circle cx="995.9" cy="148.1" r="3.5" fill="url(#gk)"/>
<circle cx="1058.4" cy="148.6" r="3.5" fill="url(#gk)"/>
<circle cx="870.7" cy="153.6" r="3.5" fill="url(#gb)"/>
<circle cx="933.3" cy="153.6" r="3.5" fill="url(#gb)"/>
<circle cx="995.9" cy="157.7" r="3.5" fill="url(#gb)"/>
<circle cx="1058.4" cy="156.5" r="3.5" fill="url(#gb)"/>
<rect x="865.3" y="115.1" width="200.2" height="76.1" fill="none" stroke="#2a2a2a" stroke-width="1.5" />
<line x1="870.7" y1="191.2" x2="870.7" y2="194.0" stroke="#2a2a2a" stroke-width="1.2" />
<line x1="933.3" y1="191.2" x2="933.3" y2="194.0" stroke="#2a2a2a" stroke-width="1.2" />
<line x1="995.9" y1="191.2" x2="995.9" y2="194.0" stroke="#2a2a2a" stroke-width="1.2" />
<line x1="1058.4" y1="191.2" x2="1058.4" y2="194.0" stroke="#2a2a2a" stroke-width="1.2" />
<line x1="889.5" y1="191.2" x2="889.5" y2="192.8" stroke="#2a2a2a" stroke-width="1.0" />
<line x1="900.6" y1="191.2" x2="900.6" y2="192.8" stroke="#2a2a2a" stroke-width="1.0" />
<line x1="908.4" y1="191.2" x2="908.4" y2="192.8" stroke="#2a2a2a" stroke-width="1.0" />
<line x1="914.4" y1="191.2" x2="914.4" y2="192.8" stroke="#2a2a2a" stroke-width="1.0" />
<line x1="919.4" y1="191.2" x2="919.4" y2="192.8" stroke="#2a2a2a" stroke-width="1.0" />
<line x1="923.6" y1="191.2" x2="923.6" y2="192.8" stroke="#2a2a2a" stroke-width="1.0" />
<line x1="927.2" y1="191.2" x2="927.2" y2="192.8" stroke="#2a2a2a" stroke-width="1.0" />
<line x1="930.4" y1="191.2" x2="930.4" y2="192.8" stroke="#2a2a2a" stroke-width="1.0" />
<line x1="952.1" y1="191.2" x2="952.1" y2="192.8" stroke="#2a2a2a" stroke-width="1.0" />
<line x1="963.1" y1="191.2" x2="963.1" y2="192.8" stroke="#2a2a2a" stroke-width="1.0" />
<line x1="971.0" y1="191.2" x2="971.0" y2="192.8" stroke="#2a2a2a" stroke-width="1.0" />
<line x1="977.0" y1="191.2" x2="977.0" y2="192.8" stroke="#2a2a2a" stroke-width="1.0" />
<line x1="982.0" y1="191.2" x2="982.0" y2="192.8" stroke="#2a2a2a" stroke-width="1.0" />
<line x1="986.2" y1="191.2" x2="986.2" y2="192.8" stroke="#2a2a2a" stroke-width="1.0" />
<line x1="989.8" y1="191.2" x2="989.8" y2="192.8" stroke="#2a2a2a" stroke-width="1.0" />
<line x1="993.0" y1="191.2" x2="993.0" y2="192.8" stroke="#2a2a2a" stroke-width="1.0" />
<line x1="1014.7" y1="191.2" x2="1014.7" y2="192.8" stroke="#2a2a2a" stroke-width="1.0" />
<line x1="1025.7" y1="191.2" x2="1025.7" y2="192.8" stroke="#2a2a2a" stroke-width="1.0" />
<line x1="1033.5" y1="191.2" x2="1033.5" y2="192.8" stroke="#2a2a2a" stroke-width="1.0" />
<line x1="1039.6" y1="191.2" x2="1039.6" y2="192.8" stroke="#2a2a2a" stroke-width="1.0" />
<line x1="1044.6" y1="191.2" x2="1044.6" y2="192.8" stroke="#2a2a2a" stroke-width="1.0" />
<line x1="1048.7" y1="191.2" x2="1048.7" y2="192.8" stroke="#2a2a2a" stroke-width="1.0" />
<line x1="1052.4" y1="191.2" x2="1052.4" y2="192.8" stroke="#2a2a2a" stroke-width="1.0" />
<line x1="1055.6" y1="191.2" x2="1055.6" y2="192.8" stroke="#2a2a2a" stroke-width="1.0" />
<line x1="865.3" y1="134.1" x2="868.1" y2="134.1" stroke="#2a2a2a" stroke-width="1.2" />
<line x1="865.3" y1="153.1" x2="868.1" y2="153.1" stroke="#2a2a2a" stroke-width="1.2" />
<line x1="865.3" y1="172.2" x2="868.1" y2="172.2" stroke="#2a2a2a" stroke-width="1.2" />
<line x1="865.3" y1="120.8" x2="866.9" y2="120.8" stroke="#2a2a2a" stroke-width="1.0" />
<line x1="865.3" y1="126.5" x2="866.9" y2="126.5" stroke="#2a2a2a" stroke-width="1.0" />
<line x1="865.3" y1="139.8" x2="866.9" y2="139.8" stroke="#2a2a2a" stroke-width="1.0" />
<line x1="865.3" y1="145.5" x2="866.9" y2="145.5" stroke="#2a2a2a" stroke-width="1.0" />
<line x1="865.3" y1="158.9" x2="866.9" y2="158.9" stroke="#2a2a2a" stroke-width="1.0" />
<line x1="865.3" y1="164.6" x2="866.9" y2="164.6" stroke="#2a2a2a" stroke-width="1.0" />
<line x1="865.3" y1="177.9" x2="866.9" y2="177.9" stroke="#2a2a2a" stroke-width="1.0" />
<line x1="865.3" y1="183.6" x2="866.9" y2="183.6" stroke="#2a2a2a" stroke-width="1.0" />
<text x="860.3" y="121.1" font-size="15.4" stroke="#1e1e1e" stroke-width="0.28" text-anchor="end" >10<tspan dy="-6.0" font-size="10.8">1</tspan></text>
<text x="860.3" y="159.1" font-size="15.4" stroke="#1e1e1e" stroke-width="0.28" text-anchor="end" >10<tspan dy="-6.0" font-size="10.8">-1</tspan></text>
<text x="860.3" y="197.2" font-size="15.4" stroke="#1e1e1e" stroke-width="0.28" text-anchor="end" >10<tspan dy="-6.0" font-size="10.8">-3</tspan></text>
<line x1="965.4" y1="41.1" x2="991.9" y2="41.1" stroke="#333" stroke-width="1.4" />
<circle cx="978.8" cy="41.1" r="3.4" fill="url(#gk)"/>
<line x1="965.4" y1="54.9" x2="991.9" y2="54.9" stroke="#2f8fd6" stroke-width="1.6" />
<circle cx="978.8" cy="54.9" r="3.4" fill="url(#gb)"/>
<text x="995.7" y="45.3" font-size="12.2" stroke="#1e1e1e" stroke-width="0.28" textLength="62.0" lengthAdjust="spacingAndGlyphs" >100% Strain</text>
<text x="995.7" y="59.3" font-size="12.2" stroke="#1e1e1e" stroke-width="0.28" textLength="48.0" lengthAdjust="spacingAndGlyphs" >Released</text>
<path d="M878.1,87.0 L885.6,81.4 L885.6,84.0 L895.6,84.0 L895.6,90.0 L885.6,90.0 L885.6,92.6Z" fill="#000" stroke="none" stroke-width="1" />
<rect x="902.8" y="74.3" width="20.1" height="9.1" fill="#000" stroke="none" stroke-width="1" />
<text x="912.8" y="83.3" font-size="12.5" fill="#e4e4e4" text-anchor="middle" stroke="#e4e4e4" stroke-width="0.3">S</text>
<rect x="902.8" y="89.9" width="20.1" height="9.3" fill="#000" stroke="none" stroke-width="1" />
<text x="912.8" y="99.1" font-size="12.5" fill="#e4e4e4" text-anchor="middle" stroke="#e4e4e4" stroke-width="0.3">D</text>
<path d="M947.5,87.0 L940.0,81.4 L940.0,84.0 L930.1,84.0 L930.1,90.0 L940.0,90.0 L940.0,92.6Z" fill="#000" stroke="none" stroke-width="1" />
<path d="M878.3,169.6 L885.8,164.0 L885.8,166.6 L896.1,166.6 L896.1,172.6 L885.8,172.6 L885.8,175.2Z" fill="#000" stroke="none" stroke-width="1" />
<rect x="900.6" y="158.7" width="10.7" height="20.3" fill="#000" stroke="none" stroke-width="1" />
<text x="906.0" y="174.1" font-size="14.5" fill="#e4e4e4" text-anchor="middle" stroke="#e4e4e4" stroke-width="0.3">S</text>
<rect x="915.6" y="158.7" width="10.6" height="20.3" fill="#000" stroke="none" stroke-width="1" />
<text x="920.9" y="174.1" font-size="14.5" fill="#e4e4e4" text-anchor="middle" stroke="#e4e4e4" stroke-width="0.3">D</text>
<path d="M946.8,169.6 L939.3,164.0 L939.3,166.6 L930.3,166.6 L930.3,172.6 L939.3,172.6 L939.3,175.2Z" fill="#000" stroke="none" stroke-width="1" />
<text x="871.3" y="211.6" font-size="15.8" stroke="#1e1e1e" stroke-width="0.28" text-anchor="middle" >10<tspan dy="-7.5" font-size="10.8">0</tspan></text>
<text x="933.9" y="211.6" font-size="15.8" stroke="#1e1e1e" stroke-width="0.28" text-anchor="middle" >10<tspan dy="-7.5" font-size="10.8">1</tspan></text>
<text x="996.5" y="211.6" font-size="15.8" stroke="#1e1e1e" stroke-width="0.28" text-anchor="middle" >10<tspan dy="-7.5" font-size="10.8">2</tspan></text>
<text x="1059.0" y="211.6" font-size="15.8" stroke="#1e1e1e" stroke-width="0.28" text-anchor="middle" >10<tspan dy="-7.5" font-size="10.8">3</tspan></text>
<text x="941.9" y="224.2" font-size="16.0" stroke="#1e1e1e" stroke-width="0.28" textLength="50.5" lengthAdjust="spacingAndGlyphs" >Cycles</text>
<text x="829.5" y="187.5" font-size="15.2" stroke="#1e1e1e" stroke-width="0.28" textLength="147.0" lengthAdjust="spacingAndGlyphs" transform="rotate(-90 829.5 187.5)" >Mobility (cm<tspan dy="-6" font-size="10.5">2</tspan><tspan dy="6"> V</tspan><tspan dy="-6" font-size="10.5">-1</tspan><tspan dy="6"> s</tspan><tspan dy="-6" font-size="10.5">-1</tspan><tspan dy="6">)</tspan></text>
<rect x="584.7" y="414.4" width="13.3" height="32.6" fill="#00a0fe" stroke="none" stroke-width="1" />
<rect x="614.3" y="343.5" width="12.6" height="103.5" fill="#004a77" stroke="none" stroke-width="1" />
<rect x="643.1" y="435.1" width="13.1" height="11.9" fill="#aaffff" stroke="none" stroke-width="1" />
<rect x="578.9" y="260.7" width="209.1" height="186.3" fill="none" stroke="#333" stroke-width="1.5" />
<line x1="578.9" y1="377.0" x2="581.5" y2="377.0" stroke="#333" stroke-width="1.2" />
<line x1="578.9" y1="299.5" x2="581.5" y2="299.5" stroke="#333" stroke-width="1.2" />
<line x1="578.9" y1="415.8" x2="580.5" y2="415.8" stroke="#333" stroke-width="1.0" />
<line x1="578.9" y1="338.2" x2="580.5" y2="338.2" stroke="#333" stroke-width="1.0" />
<text x="575.6" y="303.9" font-size="13.0" stroke="#1e1e1e" stroke-width="0.28" text-anchor="end" textLength="15.2" lengthAdjust="spacingAndGlyphs" >20</text>
<text x="575.6" y="381.4" font-size="13.0" stroke="#1e1e1e" stroke-width="0.28" text-anchor="end" textLength="15.2" lengthAdjust="spacingAndGlyphs" >10</text>
<text x="556.3" y="429.0" font-size="14.8" stroke="#1e1e1e" stroke-width="0.28" textLength="152.0" lengthAdjust="spacingAndGlyphs" transform="rotate(-90 556.3 429.0)" >Young's modulus (kPa)</text>
<path d="M667.2,347.6 L668.9,344.4 L670.7,341.7 L672.4,339.1 L674.1,337.0 L675.9,334.5 L677.6,332.8 L679.4,331.7 L681.1,330.0 L682.8,327.4 L684.6,326.4 L686.3,325.0 L688.0,322.7 L689.8,321.8 L691.5,319.9 L693.2,318.8 L695.0,317.3 L696.7,316.7 L698.4,315.0 L700.2,313.6 L701.9,312.8 L703.7,311.4 L705.4,310.4 L707.1,309.9 L708.9,308.2 L710.6,307.4 L712.3,306.8 L714.1,306.2 L715.8,304.3 L717.5,303.8 L719.3,302.6 L721.0,301.5 L722.8,300.9 L724.5,300.0 L726.2,299.8 L728.0,298.7 L729.7,298.3 L731.4,297.1 L733.2,296.4 L734.9,296.6 L736.6,296.0 L738.4,295.4 L740.1,294.1 L741.8,294.1 L743.6,293.4 L745.3,293.2 L747.1,292.4 L748.8,292.0 L750.5,291.7 L752.3,291.0 L754.0,290.5 L755.7,289.8 L757.5,289.6 L759.2,288.9 L760.9,288.5 L762.7,288.0 L764.4,288.0 L766.2,288.2 L767.9,287.1 L769.6,286.7 L771.4,286.4 L773.1,286.5 L774.8,286.0" fill="none" stroke="#1a6db5" stroke-width="1.9" stroke-linejoin="round"/>
<path d="M667.2,347.6 L668.9,346.0 L670.7,344.8 L672.4,343.2 L674.1,342.5 L675.9,341.9 L677.6,341.6 L679.4,340.2 L681.1,339.6 L682.8,340.0 L684.6,338.9 L686.3,338.9 L688.0,338.9 L689.8,338.4 L691.5,337.5 L693.2,337.0 L695.0,337.6 L696.7,336.7 L698.4,337.0 L700.2,336.0 L701.9,336.2 L703.7,335.3 L705.4,334.9 L707.1,335.1 L708.9,334.3 L710.6,334.8 L712.3,334.8 L714.1,334.0 L715.8,334.4 L717.5,334.0 L719.3,333.5 L721.0,333.1 L722.8,333.4 L724.5,333.3 L726.2,332.2 L728.0,332.7 L729.7,331.8 L731.4,331.7 L733.2,332.0 L734.9,331.8 L736.6,331.5 L738.4,331.2 L740.1,331.1 L741.8,331.0 L743.6,330.7 L745.3,330.2 L747.1,330.5 L748.8,330.4 L750.5,329.9 L752.3,330.3 L754.0,330.1 L755.7,329.3 L757.5,329.7 L759.2,329.5 L760.9,330.0 L762.7,329.4 L764.4,329.1 L766.2,329.6 L767.9,328.8 L769.6,328.7 L771.4,329.2 L773.1,328.4 L774.8,328.5" fill="none" stroke="#2ea0ea" stroke-width="1.9" stroke-linejoin="round"/>
<path d="M667.2,347.6 L668.9,347.2 L670.7,346.5 L672.4,346.4 L674.1,345.7 L675.9,345.4 L677.6,345.9 L679.4,345.7 L681.1,344.9 L682.8,344.4 L684.6,345.0 L686.3,344.6 L688.0,344.3 L689.8,344.4 L691.5,344.2 L693.2,344.1 L695.0,343.9 L696.7,343.6 L698.4,343.8 L700.2,343.6 L701.9,343.0 L703.7,343.7 L705.4,343.0 L707.1,342.7 L708.9,343.0 L710.6,343.0 L712.3,342.3 L714.1,342.8 L715.8,342.7 L717.5,342.3 L719.3,341.9 L721.0,342.4 L722.8,342.1 L724.5,342.0 L726.2,341.4 L728.0,341.7 L729.7,341.1 L731.4,341.8 L733.2,341.5 L734.9,341.1 L736.6,340.7 L738.4,341.1 L740.1,341.2 L741.8,341.3 L743.6,340.7 L745.3,341.0 L747.1,340.2 L748.8,340.1 L750.5,340.7 L752.3,340.5 L754.0,339.9 L755.7,340.0 L757.5,339.7 L759.2,340.1 L760.9,340.3 L762.7,340.0 L764.4,339.4 L766.2,339.9 L767.9,339.7 L769.6,339.6 L771.4,339.5 L773.1,339.4 L774.8,338.8" fill="none" stroke="#a4f0fa" stroke-width="1.9" stroke-linejoin="round"/>
<rect x="667.2" y="271.3" width="108.5" height="76.3" fill="none" stroke="#6a6a6a" stroke-width="1.1" />
<line x1="667.2" y1="320.6" x2="669.2" y2="320.6" stroke="#666" stroke-width="1" />
<line x1="667.2" y1="293.6" x2="669.2" y2="293.6" stroke="#666" stroke-width="1" />
<line x1="721.5" y1="347.6" x2="721.5" y2="345.6" stroke="#666" stroke-width="1" />
<text x="665.6" y="351.9" font-size="12.0" stroke="#1e1e1e" stroke-width="0.28" text-anchor="end" textLength="6.6" lengthAdjust="spacingAndGlyphs" >0</text>
<text x="665.6" y="324.9" font-size="12.0" stroke="#1e1e1e" stroke-width="0.28" text-anchor="end" textLength="13.2" lengthAdjust="spacingAndGlyphs" >25</text>
<text x="665.6" y="297.9" font-size="12.0" stroke="#1e1e1e" stroke-width="0.28" text-anchor="end" textLength="13.2" lengthAdjust="spacingAndGlyphs" >50</text>
<text x="667.2" y="359.6" font-size="12.0" stroke="#1e1e1e" stroke-width="0.28" text-anchor="middle" textLength="6.7" lengthAdjust="spacingAndGlyphs" >0</text>
<text x="721.5" y="359.6" font-size="12.0" stroke="#1e1e1e" stroke-width="0.28" text-anchor="middle" textLength="13.4" lengthAdjust="spacingAndGlyphs" >50</text>
<text x="775.7" y="359.6" font-size="12.0" stroke="#1e1e1e" stroke-width="0.28" text-anchor="middle" textLength="20.1" lengthAdjust="spacingAndGlyphs" >100</text>
<text x="649.3" y="343.0" font-size="11.2" stroke="#1e1e1e" stroke-width="0.28" textLength="61.0" lengthAdjust="spacingAndGlyphs" transform="rotate(-90 649.3 343.0)" >Stress (kPa)</text>
<text x="696.2" y="375.6" font-size="11.4" stroke="#1e1e1e" stroke-width="0.28" textLength="50.8" lengthAdjust="spacingAndGlyphs" >Strain (%)</text>
<rect x="666.5" y="392.1" width="9.5" height="6.9" fill="#50bcff" stroke="none" stroke-width="1" />
<rect x="666.5" y="408.4" width="9.5" height="7.1" fill="#aaffff" stroke="none" stroke-width="1" />
<rect x="666.5" y="427.1" width="9.5" height="6.6" fill="#004a77" stroke="none" stroke-width="1" />
<text x="684.0" y="399.8" font-size="9.5" stroke="#1e1e1e" stroke-width="0.28" textLength="92.5" lengthAdjust="spacingAndGlyphs" >Ultrasoft active matrix</text>
<text x="684.4" y="415.0" font-size="9.5" stroke="#1e1e1e" stroke-width="0.28" textLength="60.5" lengthAdjust="spacingAndGlyphs" >Pure hydrogel</text>
<text x="681.5" y="429.7" font-size="8.4" stroke="#1e1e1e" stroke-width="0.28" textLength="93.0" lengthAdjust="spacingAndGlyphs" >Ultrasoft active matrix with</text>
<text x="679.6" y="438.7" font-size="8.4" stroke="#1e1e1e" stroke-width="0.28" textLength="96.8" lengthAdjust="spacingAndGlyphs" >nonpatterned soft interlayer</text>
<path d="M 879,291.4 C 888,290.5 893,291 897,292.5 L 1029,360 C 1045,368 1058,374 1061,378.5 C 1062,382 1056,382.5 1046,383.5 C 1010,387 960,393 935,395 C 915,396.5 897,396.8 890,394.5 C 877,390 871,375 868.5,350 C 866.5,330 866.5,308 868.5,300 C 870,294 873,291.8 879,291.4 Z" fill="#b1bece" stroke="none" stroke-width="1" />
<ellipse cx="928.2" cy="304.0" rx="53.6" ry="11.8" transform="rotate(-5 928.2 304)" fill="#ff2323" fill-opacity="0.33"/>
<rect x="860.4" y="258.4" width="205.7" height="163.2" fill="none" stroke="#333" stroke-width="1.4" />
<line x1="860.4" y1="283.1" x2="863.0" y2="283.1" stroke="#333" stroke-width="1.2" />
<line x1="860.4" y1="329.2" x2="863.0" y2="329.2" stroke="#333" stroke-width="1.2" />
<line x1="860.4" y1="375.4" x2="863.0" y2="375.4" stroke="#333" stroke-width="1.2" />
<line x1="860.4" y1="260.0" x2="862.0" y2="260.0" stroke="#333" stroke-width="1.0" />
<line x1="860.4" y1="306.2" x2="862.0" y2="306.2" stroke="#333" stroke-width="1.0" />
<line x1="860.4" y1="352.3" x2="862.0" y2="352.3" stroke="#333" stroke-width="1.0" />
<line x1="860.4" y1="398.5" x2="862.0" y2="398.5" stroke="#333" stroke-width="1.0" />
<line x1="909.0" y1="421.6" x2="909.0" y2="419.0" stroke="#333" stroke-width="1.2" />
<line x1="975.1" y1="421.6" x2="975.1" y2="419.0" stroke="#333" stroke-width="1.2" />
<line x1="1041.2" y1="421.6" x2="1041.2" y2="419.0" stroke="#333" stroke-width="1.2" />
<line x1="876.0" y1="421.6" x2="876.0" y2="420.0" stroke="#333" stroke-width="1.0" />
<line x1="942.0" y1="421.6" x2="942.0" y2="420.0" stroke="#333" stroke-width="1.0" />
<line x1="1008.1" y1="421.6" x2="1008.1" y2="420.0" stroke="#333" stroke-width="1.0" />
<text x="858.6" y="288.5" font-size="13.6" stroke="#1e1e1e" stroke-width="0.28" text-anchor="end" >10<tspan dy="-6" font-size="9.5">7</tspan></text>
<text x="858.6" y="334.3" font-size="13.6" stroke="#1e1e1e" stroke-width="0.28" text-anchor="end" >10<tspan dy="-6" font-size="9.5">5</tspan></text>
<text x="858.6" y="380.0" font-size="13.6" stroke="#1e1e1e" stroke-width="0.28" text-anchor="end" >10<tspan dy="-6" font-size="9.5">3</tspan></text>
<text x="858.6" y="426.6" font-size="13.6" stroke="#1e1e1e" stroke-width="0.28" text-anchor="end" >10<tspan dy="-6" font-size="9.5">1</tspan></text>
<text x="909.0" y="437.5" font-size="12.6" stroke="#1e1e1e" stroke-width="0.28" text-anchor="middle" textLength="26.6" lengthAdjust="spacingAndGlyphs" >50%</text>
<text x="975.1" y="437.5" font-size="12.6" stroke="#1e1e1e" stroke-width="0.28" text-anchor="middle" textLength="33.2" lengthAdjust="spacingAndGlyphs" >100%</text>
<text x="1041.2" y="437.5" font-size="12.6" stroke="#1e1e1e" stroke-width="0.28" text-anchor="middle" textLength="33.2" lengthAdjust="spacingAndGlyphs" >150%</text>
<text x="920.6" y="455.2" font-size="13.4" stroke="#1e1e1e" stroke-width="0.28" textLength="77.8" lengthAdjust="spacingAndGlyphs" >Stretchability</text>
<text x="831.0" y="381.8" font-size="14.0" stroke="#1e1e1e" stroke-width="0.28" textLength="86.0" lengthAdjust="spacingAndGlyphs" transform="rotate(-90 831.0 381.8)" >Modulus (Pa)</text>
<circle cx="884.4" cy="295.9" r="3.1" fill="#2a55a5" />
<circle cx="884.4" cy="308.9" r="3.1" fill="#ff0000" />
<circle cx="907.3" cy="312.1" r="3.1" fill="#ff0000" />
<circle cx="973.4" cy="298.8" r="3.1" fill="#ff0000" />
<circle cx="871.0" cy="342.7" r="3.1" fill="#2a55a5" />
<circle cx="889.2" cy="387.8" r="3.1" fill="#2a55a5" />
<circle cx="1052.5" cy="378.8" r="3.1" fill="#2a55a5" />
<path d="M983.4,364.5 Q974.6,362.7 972.8,353.5 Q971.0,362.7 962.2,364.5 Q971.0,366.3 972.8,375.5 Q974.6,366.3 983.4,364.5Z" fill="#ff0000" stroke="none" stroke-width="1" />
<text x="865.2" y="290.1" font-size="14.8" stroke="#1e1e1e" stroke-width="0.28" textLength="47.3" lengthAdjust="spacingAndGlyphs" >Ref. 10</text>
<text x="915.7" y="317.3" font-size="14.8" stroke="#1e1e1e" stroke-width="0.28" textLength="45.4" lengthAdjust="spacingAndGlyphs" >Ref. 37</text>
<text x="867.1" y="327.7" font-size="14.8" stroke="#1e1e1e" stroke-width="0.28" textLength="46.7" lengthAdjust="spacingAndGlyphs" >Ref. 49</text>
<text x="980.3" y="303.5" font-size="14.8" stroke="#1e1e1e" stroke-width="0.28" textLength="47.3" lengthAdjust="spacingAndGlyphs" >Ref. 36</text>
<text x="877.4" y="346.5" font-size="14.8" stroke="#1e1e1e" stroke-width="0.28" textLength="47.3" lengthAdjust="spacingAndGlyphs" >Ref. 33</text>
<text x="1013.7" y="371.5" font-size="14.8" stroke="#1e1e1e" stroke-width="0.28" textLength="47.8" lengthAdjust="spacingAndGlyphs" >Ref. 35</text>
<text x="872.3" y="406.0" font-size="14.8" stroke="#1e1e1e" stroke-width="0.28" textLength="47.6" lengthAdjust="spacingAndGlyphs" >Ref. 28</text>
<text x="942.7" y="387.4" font-size="14.4" stroke="#1e1e1e" stroke-width="0.28" textLength="62.0" lengthAdjust="spacingAndGlyphs" >This work</text>
<circle cx="938.6" cy="399.6" r="3.1" fill="#ff0000" />
<circle cx="938.6" cy="412.8" r="3.1" fill="#2a55a5" />
<text x="946.8" y="404.8" font-size="14.0" stroke="#1e1e1e" stroke-width="0.28" textLength="87.6" lengthAdjust="spacingAndGlyphs" >Active device</text>
<text x="946.8" y="417.3" font-size="14.0" stroke="#1e1e1e" stroke-width="0.28" textLength="116.4" lengthAdjust="spacingAndGlyphs" >Passive electrode</text>
<defs>
<linearGradient id="ghyd" x1="0" y1="0" x2="1" y2="0"><stop offset="0" stop-color="#d6e9ec"/><stop offset="0.6" stop-color="#c6dee1"/><stop offset="1" stop-color="#b8d6da"/></linearGradient>
<linearGradient id="gcy" x1="0" y1="0" x2="1" y2="0"><stop offset="0" stop-color="#8fe4e7"/><stop offset="0.45" stop-color="#b6f1f2"/><stop offset="0.8" stop-color="#8fe0e3"/><stop offset="1" stop-color="#84dcdf"/></linearGradient>
<linearGradient id="ggate" x1="0" y1="0" x2="1" y2="0"><stop offset="0" stop-color="#2f3e3e"/><stop offset="0.6" stop-color="#6d7575"/><stop offset="1" stop-color="#c9cfcf"/></linearGradient>
<linearGradient id="gdie" x1="0" y1="0" x2="1" y2="0"><stop offset="0" stop-color="#c5e6e6"/><stop offset="0.5" stop-color="#d2ecec"/><stop offset="0.85" stop-color="#8fb8b8"/><stop offset="1" stop-color="#456e6e"/></linearGradient>
<linearGradient id="gsemi" x1="0" y1="0" x2="1" y2="0"><stop offset="0" stop-color="#1f5b55"/><stop offset="0.5" stop-color="#129a86"/><stop offset="1" stop-color="#2bb39e"/></linearGradient>
<linearGradient id="genc" x1="0" y1="0" x2="1" y2="0"><stop offset="0" stop-color="#2b5f5a"/><stop offset="0.5" stop-color="#6fa8a3"/><stop offset="1" stop-color="#c5e0de"/></linearGradient>
<linearGradient id="gband" x1="0" y1="0" x2="0" y2="1"><stop offset="0" stop-color="#a9b1a7"/><stop offset="0.5" stop-color="#b3baaf"/><stop offset="1" stop-color="#a8afa5"/></linearGradient>
<filter id="fsoft" x="-5%" y="-5%" width="110%" height="110%"><feGaussianBlur stdDeviation="0.7"/></filter>
<filter id="fblur" x="-20%" y="-40%" width="140%" height="180%"><feGaussianBlur stdDeviation="6"/></filter>
<mask id="mphoto" maskUnits="userSpaceOnUse" x="0" y="110" width="280" height="110"><rect x="60" y="137" width="190" height="60" rx="14" fill="#fff" filter="url(#fblur)"/></mask>
</defs>
<rect x="28.2" y="32.3" width="88.6" height="65.5" fill="none" stroke="#2a2a2a" stroke-width="1.35" stroke-dasharray="1.2 0.9"/>
<text x="31.9" y="45.8" font-size="12.6" fill="#3f86cc" stroke="#3f86cc" stroke-width="0.28" textLength="80.0" lengthAdjust="spacingAndGlyphs" >Encapsulation</text>
<text x="29.9" y="58.0" font-size="12.6" fill="#8a8a8a" stroke="#8a8a8a" stroke-width="0.28" textLength="83.6" lengthAdjust="spacingAndGlyphs" >S/D electrodes</text>
<text x="29.4" y="70.1" font-size="12.6" fill="#1aa591" stroke="#1aa591" stroke-width="0.28" textLength="84.8" lengthAdjust="spacingAndGlyphs" >Semiconductor</text>
<text x="45.2" y="82.8" font-size="12.6" fill="#3f86cc" stroke="#3f86cc" stroke-width="0.28" textLength="52.5" lengthAdjust="spacingAndGlyphs" >Dielectric</text>
<text x="57.9" y="95.0" font-size="12.6" fill="#8a8a8a" stroke="#8a8a8a" stroke-width="0.28" textLength="28.0" lengthAdjust="spacingAndGlyphs" >Gate</text>
<line x1="116.8" y1="32.3" x2="139.2" y2="42.2" stroke="#2a2a2a" stroke-width="1.2" stroke-dasharray="1.2 0.9"/>
<line x1="116.8" y1="97.8" x2="139.2" y2="78.0" stroke="#2a2a2a" stroke-width="1.2" stroke-dasharray="1.2 0.9"/>
<path d="M93.9,114.3 C105,110 118,104 128,100.7 C140,97.5 150,97.5 158,98.6 L218,98.6 C225,97.5 230,96.5 235.4,95.6 L232,120.8 C225,122.5 218,124 211,125 C200,127.5 195,130 188.9,129.9 C180,129.5 170,129 162.5,127.8 C150,125.5 142,122.5 134.7,120.8 C122,118.5 108,116 93.9,114.3 Z" fill="url(#ghyd)" stroke="none" stroke-width="1" />
<path d="M106.3,99.7 C113,97.5 120,95 127.8,93 C138,90 148,86 158.3,84 C166,83 172,86 177.8,88.9 C185,92 191,94 197.2,94.4 C206,94.5 215,93 224.3,91.4 L216.7,107.6 C208,109.5 197,112.5 188.9,112.5 C181,112.5 175,111.5 169.4,109.7 C161,106.5 155,102.5 148.6,100 C141,97 134,95.8 127.8,95.8 C120,96 112,98 106.3,99.7 Z" fill="url(#gcy)" stroke="none" stroke-width="1" />
<path d="M125.0,74.4 C127.2,74.1 133.8,72.8 138.0,72.3 C142.2,71.8 146.2,71.1 150.4,71.6 C154.6,72.1 158.7,73.9 163.0,75.5 C167.3,77.1 170.7,80.2 176.0,81.0 C181.3,81.8 188.5,80.8 195.0,80.3 C201.5,79.8 211.8,78.4 215.1,78.0 L211.0,80.6 C208.3,81.2 200.8,83.4 195.0,84.2 C189.2,85.0 181.3,86.0 176.0,85.2 C170.7,84.4 167.3,81.3 163.0,79.5 C158.7,77.7 154.6,75.2 150.4,74.3 C146.2,73.4 142.2,74.0 138.0,74.3 C133.8,74.5 127.2,75.5 125.0,75.8 Z" fill="url(#ggate)" stroke="none" stroke-width="1" />
<path d="M124.0,66.5 C126.2,66.4 132.7,65.9 137.0,65.8 C141.3,65.7 145.3,65.5 150.0,66.0 C154.7,66.5 160.0,67.5 165.0,68.5 C170.0,69.5 175.0,71.1 180.0,72.0 C185.0,72.9 190.6,73.6 195.0,74.0 C199.4,74.4 204.3,74.2 206.2,74.3 L203.0,78.5 C201.7,78.9 198.8,80.8 195.0,81.0 C191.2,81.2 185.0,81.0 180.0,80.0 C175.0,79.0 170.0,76.6 165.0,75.0 C160.0,73.4 154.7,71.6 150.0,70.5 C145.3,69.4 141.3,69.0 137.0,68.6 C132.7,68.2 126.2,68.1 124.0,68.0 Z" fill="url(#gdie)" stroke="none" stroke-width="1" />
<path d="M131.3,60.8 C133.1,60.7 138.6,60.1 142.0,60.0 C145.4,59.9 148.2,59.9 152.0,60.4 C155.8,60.9 160.3,62.1 165.0,63.2 C169.7,64.3 175.5,66.1 180.0,67.2 C184.5,68.3 188.1,69.2 192.0,69.9 C195.9,70.6 201.8,71.0 203.7,71.2 L201.0,73.0 C199.5,73.1 195.5,73.7 192.0,73.4 C188.5,73.1 184.5,72.5 180.0,71.4 C175.5,70.3 169.7,68.4 165.0,67.0 C160.3,65.6 155.8,64.0 152.0,63.2 C148.2,62.4 145.4,62.2 142.0,62.0 C138.6,61.8 133.1,62.2 131.3,62.2 Z" fill="url(#gsemi)" stroke="none" stroke-width="1" />
<path d="M140,54.9 l8,1.6 l0,1.7 l-8,-1.2 Z" fill="#d0d0d0" stroke="none" stroke-width="1" />
<path d="M151,57.0 l8,1.8 l0,1.7 l-8,-1.4 Z" fill="#d0d0d0" stroke="none" stroke-width="1" />
<path d="M162,59.1 l8,2.0 l0,1.7 l-8,-1.6 Z" fill="#d0d0d0" stroke="none" stroke-width="1" />
<path d="M173,61.2 l8,2.2 l0,1.7 l-8,-1.8 Z" fill="#d0d0d0" stroke="none" stroke-width="1" />
<path d="M184,63.3 l8,2.3 l0,1.7 l-8,-1.9 Z" fill="#d0d0d0" stroke="none" stroke-width="1" />
<path d="M194,65.2 l8,2.5 l0,1.7 l-8,-2.1 Z" fill="#d0d0d0" stroke="none" stroke-width="1" />
<path d="M133.9,48.6 C135.8,48.5 141.6,48.1 145.0,48.2 C148.4,48.3 150.4,48.2 154.2,49.0 C158.0,49.8 163.4,51.4 168.0,52.8 C172.6,54.2 177.8,56.1 182.0,57.2 C186.2,58.3 189.8,58.9 193.0,59.4 C196.2,59.9 199.8,59.9 201.1,60.0 L199.0,61.6 C198.0,61.7 195.8,62.3 193.0,62.2 C190.2,62.1 186.2,62.1 182.0,61.2 C177.8,60.3 172.6,58.2 168.0,56.6 C163.4,55.0 158.0,52.9 154.2,51.8 C150.4,50.7 148.4,50.5 145.0,50.2 C141.6,49.9 135.8,50.0 133.9,50.0 Z" fill="url(#genc)" stroke="none" stroke-width="1" />
<rect x="139.2" y="42.2" width="8.0" height="35.8" fill="none" stroke="#2a2a2a" stroke-width="1.25" stroke-dasharray="1.2 0.9"/>
<text x="228.0" y="54.6" font-size="14.4" stroke="#1e1e1e" stroke-width="0.28" textLength="26.0" lengthAdjust="spacingAndGlyphs" >Soft</text>
<text x="212.4" y="70.6" font-size="14.4" stroke="#1e1e1e" stroke-width="0.28" textLength="62.0" lengthAdjust="spacingAndGlyphs" >interlayer</text>
<line x1="222.8" y1="74.7" x2="204.4" y2="98.9" stroke="#111" stroke-width="1.3" />
<circle cx="204.4" cy="98.9" r="1.9" fill="#111" />
<text x="83.3" y="122.9" font-size="14.4" stroke="#1e1e1e" stroke-width="0.28" textLength="124.2" lengthAdjust="spacingAndGlyphs" >Hydrogel substrate</text>
<g mask="url(#mphoto)"><g filter="url(#fsoft)">
<rect x="48.0" y="128.0" width="212.0" height="76.0" fill="#e6e4ea" stroke="none" stroke-width="1" />
<text x="58" y="151" font-size="21" font-weight="bold" font-family="Liberation Serif, serif" fill="#9a7e8b" opacity="0.75" textLength="196" lengthAdjust="spacingAndGlyphs">O UCHICAGO C</text>
<text x="58" y="207" font-size="21" font-weight="bold" font-family="Liberation Serif, serif" fill="#a07c8a" opacity="0.65" textLength="196" lengthAdjust="spacingAndGlyphs">O UCHICAGO C</text>
<rect x="48.0" y="128.0" width="212.0" height="12.0" fill="#f3eff1" stroke="none" stroke-width="1" opacity="0.55"/>
<rect x="48.0" y="143.5" width="212.0" height="10.5" fill="#e4e5ee" stroke="none" stroke-width="1" opacity="0.6"/>
<rect x="48.0" y="176.0" width="212.0" height="10.5" fill="#cdd1da" stroke="none" stroke-width="1" opacity="0.75"/>
<rect x="48.0" y="193.0" width="212.0" height="12.0" fill="#f3eff1" stroke="none" stroke-width="1" opacity="0.45"/>
<rect x="56.0" y="153.5" width="196.0" height="22.5" fill="url(#gband)" stroke="none" stroke-width="1" />
<ellipse cx="89.5" cy="149" rx="7" ry="2.8" fill="#7d3a58" opacity="0.85"/>
<ellipse cx="88" cy="183.5" rx="10" ry="3.2" fill="#7f3d5a" opacity="0.85"/>
<ellipse cx="246" cy="183" rx="5" ry="3.5" fill="#7a3a55" opacity="0.85"/>
<ellipse cx="243" cy="148" rx="4" ry="3" fill="#a06a82" opacity="0.85"/>
<text x="105" y="184.5" font-size="6" fill="#9c8a93" textLength="120" lengthAdjust="spacingAndGlyphs" opacity="0.6">THE UNIVERSITY OF CHICAGO</text>
<path d="M63,147.5 Q64.2,167.5 64.3,187.5" fill="none" stroke="#7d8276" stroke-width="0.8" opacity="0.7"/>
<path d="M67,148.0 Q65.1,168.2 66.9,188.5" fill="none" stroke="#7d8276" stroke-width="0.8" opacity="0.7"/>
<path d="M75,148.8 Q76.6,167.8 73.8,186.9" fill="none" stroke="#7d8276" stroke-width="0.8" opacity="0.7"/>
<path d="M82,146.9 Q82.2,165.7 82.2,184.5" fill="none" stroke="#7d8276" stroke-width="0.8" opacity="0.7"/>
<path d="M88,145.1 Q87.1,164.7 89.2,184.3" fill="none" stroke="#7d8276" stroke-width="0.8" opacity="0.7"/>
<path d="M111,148.1 Q112.2,166.0 109.9,184.0" fill="none" stroke="#7d8276" stroke-width="0.8" opacity="0.7"/>
<path d="M116,147.5 Q114.0,165.6 117.1,183.8" fill="none" stroke="#7d8276" stroke-width="0.8" opacity="0.7"/>
<path d="M120,145.8 Q121.9,165.1 121.1,184.3" fill="none" stroke="#7d8276" stroke-width="0.8" opacity="0.7"/>
<path d="M126,146.2 Q126.2,167.5 126.5,188.8" fill="none" stroke="#7d8276" stroke-width="0.8" opacity="0.7"/>
<path d="M136,145.8 Q136.8,167.2 137.4,188.6" fill="none" stroke="#7d8276" stroke-width="0.8" opacity="0.7"/>
<path d="M140,148.6 Q139.4,166.7 139.0,184.8" fill="none" stroke="#7d8276" stroke-width="0.8" opacity="0.7"/>
<path d="M146,145.6 Q145.2,164.5 146.3,183.4" fill="none" stroke="#7d8276" stroke-width="0.8" opacity="0.7"/>
<path d="M150,145.0 Q149.4,166.0 149.4,187.1" fill="none" stroke="#7d8276" stroke-width="0.8" opacity="0.7"/>
<path d="M175,148.3 Q174.3,167.1 174.9,185.9" fill="none" stroke="#7d8276" stroke-width="0.8" opacity="0.7"/>
<path d="M180,147.8 Q181.9,165.6 178.6,183.3" fill="none" stroke="#7d8276" stroke-width="0.8" opacity="0.7"/>
<path d="M186,148.0 Q184.1,168.0 186.9,188.1" fill="none" stroke="#7d8276" stroke-width="0.8" opacity="0.7"/>
<path d="M191,146.5 Q189.0,166.5 189.6,186.5" fill="none" stroke="#7d8276" stroke-width="0.8" opacity="0.7"/>
<path d="M196,145.7 Q194.8,167.2 196.8,188.7" fill="none" stroke="#7d8276" stroke-width="0.8" opacity="0.7"/>
<path d="M200,148.7 Q199.4,168.7 199.6,188.7" fill="none" stroke="#7d8276" stroke-width="0.8" opacity="0.7"/>
<path d="M205,147.1 Q203.4,167.4 205.7,187.7" fill="none" stroke="#7d8276" stroke-width="0.8" opacity="0.7"/>
<path d="M50,141 C100,143 160,146 255,141" fill="none" stroke="#ffffff" stroke-width="1.3" opacity="0.85"/>
<path d="M50,192 C100,187 160,183 255,185" fill="none" stroke="#ffffff" stroke-width="1.1" opacity="0.85"/>
</g></g>
<rect x="221.9" y="186.2" width="25.1" height="5.3" fill="#000" stroke="none" stroke-width="1" />
<text x="70.5" y="212.0" font-size="16.2" stroke="#1e1e1e" stroke-width="0.28" textLength="177.6" lengthAdjust="spacingAndGlyphs" >Transistors under strain</text>
<defs>
<linearGradient id="gsheet" x1="0.3" y1="0" x2="0.2" y2="1"><stop offset="0" stop-color="#f2f5f8"/><stop offset="0.5" stop-color="#e3e9f0"/><stop offset="1" stop-color="#d2dce8"/></linearGradient>
<linearGradient id="gfbg" x1="0" y1="0" x2="1" y2="0"><stop offset="0" stop-color="#c9c6c4"/><stop offset="0.25" stop-color="#e0dcd5"/><stop offset="0.7" stop-color="#e6e1d9"/><stop offset="1" stop-color="#d9d5ce"/></linearGradient>
<linearGradient id="gleft" x1="0" y1="0" x2="1" y2="0"><stop offset="0" stop-color="#8c8894"/><stop offset="0.5" stop-color="#a29ea6"/><stop offset="1" stop-color="#b6b3b6"/></linearGradient>
<radialGradient id="gglove1" cx="0.3" cy="0.35" r="0.8"><stop offset="0" stop-color="#4741ab"/><stop offset="0.55" stop-color="#3a3496"/><stop offset="1" stop-color="#2b2676"/></radialGradient>
<radialGradient id="gglove2" cx="0.55" cy="0.3" r="0.8"><stop offset="0" stop-color="#3d38a0"/><stop offset="0.6" stop-color="#302b84"/><stop offset="1" stop-color="#25216c"/></radialGradient>
<radialGradient id="gglove3" cx="0.3" cy="0.5" r="0.9"><stop offset="0" stop-color="#3f3c9c"/><stop offset="0.7" stop-color="#373493"/><stop offset="1" stop-color="#2c297e"/></radialGradient>
<filter id="fblur3" x="-60%" y="-60%" width="220%" height="220%"><feGaussianBlur stdDeviation="9"/></filter>
<filter id="fsoft2" x="-20%" y="-20%" width="140%" height="140%"><feGaussianBlur stdDeviation="1.6"/></filter>
<filter id="fblur2" x="-30%" y="-30%" width="160%" height="160%"><feGaussianBlur stdDeviation="12"/></filter>
</defs>
<path d="M42,348 C55,345 66,340 86,330 C100,323 115,314 125,310 C140,301 155,292 172,284 C185,293 200,315 216.5,330 C232,343 250,350 272,350 C262,354 250,358 242,361 C225,370 200,388 181,399.5 C170,407 160,415 151,421 C138,429 125,434 112.3,435.5 C108,428 105,421.5 100,410 C96,400 92,390 85,373 C80,364 72,358 60,353 C52,350.5 46,349 42,348 Z" fill="url(#gsheet)" stroke="none" stroke-width="1" />
<path d="M53.5,342.8 C59.1,340.8 76.3,334.7 87.1,330.6 C97.8,326.5 107.8,322.7 118.1,318.3 C128.5,314.0 138.5,309.5 149.2,304.6 C160.0,299.7 177.2,291.4 182.8,288.8" fill="none" stroke-width="4.2" stroke="#4fcaca" stroke-opacity="0.38" stroke-linecap="butt"/>
<path d="M66.8,355.6 C72.5,353.4 89.8,346.8 100.7,342.5 C111.5,338.1 121.5,334.0 132.0,329.4 C142.4,324.8 152.4,320.1 163.3,314.9 C174.2,309.7 191.5,301.0 197.1,298.2" fill="none" stroke-width="4.2" stroke="#4fcaca" stroke-opacity="0.38" stroke-linecap="butt"/>
<path d="M80.1,368.3 C85.8,366.0 103.3,359.0 114.2,354.3 C125.2,349.7 135.3,345.3 145.8,340.5 C156.3,335.6 166.4,330.7 177.4,325.2 C188.3,319.7 205.8,310.6 211.5,307.7" fill="none" stroke-width="4.2" stroke="#4fcaca" stroke-opacity="0.38" stroke-linecap="butt"/>
<path d="M93.5,381.0 C99.2,378.6 116.8,371.1 127.8,366.2 C138.9,361.3 149.0,356.7 159.7,351.6 C170.3,346.5 180.4,341.2 191.5,335.5 C202.5,329.7 220.1,320.2 225.8,317.1" fill="none" stroke-width="4.2" stroke="#4fcaca" stroke-opacity="0.38" stroke-linecap="butt"/>
<path d="M106.8,393.8 C112.5,391.1 130.3,383.3 141.4,378.1 C152.5,372.9 162.8,368.0 173.5,362.7 C184.2,357.3 194.4,351.8 205.6,345.8 C216.7,339.8 234.4,329.8 240.2,326.6" fill="none" stroke-width="4.2" stroke="#4fcaca" stroke-opacity="0.38" stroke-linecap="butt"/>
<path d="M120.1,406.5 C125.9,403.7 143.8,395.4 155.0,390.0 C166.2,384.5 176.5,379.4 187.3,373.7 C198.1,368.1 208.4,362.4 219.6,356.1 C230.8,349.8 248.7,339.3 254.6,336.0" fill="none" stroke-width="4.2" stroke="#4fcaca" stroke-opacity="0.38" stroke-linecap="butt"/>
<path d="M58.7,333.1 C62.3,336.5 73.4,346.8 80.4,353.3 C87.3,359.8 93.8,365.7 100.5,372.0 C107.2,378.2 113.9,384.4 120.6,390.6 C127.3,396.9 137.3,406.2 140.7,409.3" fill="none" stroke-width="4.2" stroke="#4fcaca" stroke-opacity="0.38" stroke-linecap="butt"/>
<path d="M79.3,324.7 C83.0,327.9 94.2,337.8 101.3,344.0 C108.3,350.2 114.8,355.9 121.6,361.9 C128.4,367.8 135.2,373.8 142.0,379.8 C148.8,385.7 158.9,394.7 162.3,397.7" fill="none" stroke-width="4.2" stroke="#4fcaca" stroke-opacity="0.38" stroke-linecap="butt"/>
<path d="M100.0,316.2 C103.7,319.3 115.1,328.8 122.2,334.7 C129.3,340.6 135.9,346.1 142.8,351.8 C149.7,357.5 156.5,363.2 163.4,368.9 C170.3,374.6 180.6,383.1 184.0,386.0" fill="none" stroke-width="4.2" stroke="#4fcaca" stroke-opacity="0.38" stroke-linecap="butt"/>
<path d="M120.6,307.8 C124.4,310.7 135.9,319.8 143.1,325.4 C150.3,331.1 157.0,336.3 164.0,341.7 C170.9,347.2 177.9,352.6 184.8,358.0 C191.8,363.5 202.2,371.6 205.7,374.3" fill="none" stroke-width="4.2" stroke="#4fcaca" stroke-opacity="0.38" stroke-linecap="butt"/>
<path d="M141.2,299.4 C145.0,302.2 156.7,310.7 164.0,316.1 C171.3,321.5 178.1,326.5 185.1,331.6 C192.2,336.8 199.2,342.0 206.2,347.1 C213.3,352.3 223.8,360.1 227.3,362.7" fill="none" stroke-width="4.2" stroke="#4fcaca" stroke-opacity="0.38" stroke-linecap="butt"/>
<path d="M161.9,290.9 C165.7,293.6 177.5,301.7 185.0,306.8 C192.4,311.9 199.2,316.6 206.3,321.6 C213.4,326.5 220.5,331.4 227.7,336.3 C234.8,341.2 245.4,348.5 249.0,351.0" fill="none" stroke-width="4.2" stroke="#4fcaca" stroke-opacity="0.38" stroke-linecap="butt"/>
<path d="M76.7,317.2 C78.8,319.8 85.4,328.4 88.9,332.8 C92.4,337.3 94.7,340.2 97.7,343.9 C100.7,347.6 103.8,351.3 107.0,355.0 C110.2,358.6 112.8,361.6 116.8,365.8 C120.8,370.1 128.7,377.9 131.1,380.3" fill="none" stroke="#7a655b" stroke-width="2.2" />
<path d="M76.7,317.2 C78.8,319.8 85.4,328.4 88.9,332.8 C92.4,337.3 94.7,340.2 97.7,343.9 C100.7,347.6 103.8,351.3 107.0,355.0 C110.2,358.6 112.8,361.6 116.8,365.8 C120.8,370.1 128.7,377.9 131.1,380.3" fill="none" stroke="#a8948a" stroke-width="1.0" />
<path d="M96.1,311.2 C98.3,313.7 105.3,322.2 109.0,326.5 C112.7,330.8 115.0,333.5 118.2,337.0 C121.4,340.4 124.6,343.8 128.0,347.0 C131.3,350.3 134.1,352.9 138.3,356.6 C142.5,360.3 150.7,367.1 153.2,369.2" fill="none" stroke="#7a655b" stroke-width="2.2" />
<path d="M96.1,311.2 C98.3,313.7 105.3,322.2 109.0,326.5 C112.7,330.8 115.0,333.5 118.2,337.0 C121.4,340.4 124.6,343.8 128.0,347.0 C131.3,350.3 134.1,352.9 138.3,356.6 C142.5,360.3 150.7,367.1 153.2,369.2" fill="none" stroke="#a8948a" stroke-width="1.0" />
<path d="M115.5,304.7 C117.8,307.1 125.2,315.1 129.0,319.0 C132.9,323.0 135.4,325.4 138.7,328.5 C142.0,331.5 145.4,334.5 148.9,337.5 C152.4,340.4 155.3,342.7 159.7,346.2 C164.1,349.6 172.7,356.2 175.3,358.2" fill="none" stroke="#7a655b" stroke-width="2.2" />
<path d="M115.5,304.7 C117.8,307.1 125.2,315.1 129.0,319.0 C132.9,323.0 135.4,325.4 138.7,328.5 C142.0,331.5 145.4,334.5 148.9,337.5 C152.4,340.4 155.3,342.7 159.7,346.2 C164.1,349.6 172.7,356.2 175.3,358.2" fill="none" stroke="#a8948a" stroke-width="1.0" />
<path d="M134.9,297.5 C137.3,299.7 145.0,307.1 149.1,310.7 C153.2,314.3 155.8,316.5 159.2,319.4 C162.7,322.3 166.3,325.1 169.9,328.0 C173.6,330.9 176.6,333.2 181.1,336.8 C185.7,340.4 194.6,347.6 197.3,349.8" fill="none" stroke="#7a655b" stroke-width="2.2" />
<path d="M134.9,297.5 C137.3,299.7 145.0,307.1 149.1,310.7 C153.2,314.3 155.8,316.5 159.2,319.4 C162.7,322.3 166.3,325.1 169.9,328.0 C173.6,330.9 176.6,333.2 181.1,336.8 C185.7,340.4 194.6,347.6 197.3,349.8" fill="none" stroke="#a8948a" stroke-width="1.0" />
<path d="M154.3,290.2 C156.8,292.3 164.9,299.2 169.2,302.7 C173.4,306.2 176.1,308.5 179.8,311.4 C183.4,314.4 187.1,317.3 190.9,320.4 C194.7,323.5 197.8,326.0 202.6,329.9 C207.3,333.8 216.6,341.7 219.4,344.0" fill="none" stroke="#7a655b" stroke-width="2.2" />
<path d="M154.3,290.2 C156.8,292.3 164.9,299.2 169.2,302.7 C173.4,306.2 176.1,308.5 179.8,311.4 C183.4,314.4 187.1,317.3 190.9,320.4 C194.7,323.5 197.8,326.0 202.6,329.9 C207.3,333.8 216.6,341.7 219.4,344.0" fill="none" stroke="#a8948a" stroke-width="1.0" />
<path d="M173.7,283.3 C176.3,285.4 184.8,292.3 189.2,295.9 C193.6,299.5 196.5,301.9 200.3,305.0 C204.0,308.1 207.9,311.3 211.9,314.6 C215.8,317.8 219.1,320.5 224.0,324.5 C229.0,328.5 238.6,336.3 241.5,338.6" fill="none" stroke="#7a655b" stroke-width="2.2" />
<path d="M173.7,283.3 C176.3,285.4 184.8,292.3 189.2,295.9 C193.6,299.5 196.5,301.9 200.3,305.0 C204.0,308.1 207.9,311.3 211.9,314.6 C215.8,317.8 219.1,320.5 224.0,324.5 C229.0,328.5 238.6,336.3 241.5,338.6" fill="none" stroke="#a8948a" stroke-width="1.0" />
<path d="M72.7,324.4 C76.4,323.2 89.0,319.5 95.2,317.5 C101.4,315.6 105.0,314.4 109.9,312.7 C114.8,311.0 119.7,309.2 124.6,307.4 C129.5,305.6 134.4,303.6 139.3,301.7 C144.2,299.8 149.1,297.8 154.0,296.0 C158.9,294.1 163.3,292.4 168.7,290.5 C174.1,288.6 183.4,285.6 186.3,284.6" fill="none" stroke="#6f5a50" stroke-width="3.4" />
<path d="M72.7,324.4 C76.4,323.2 89.0,319.5 95.2,317.5 C101.4,315.6 105.0,314.4 109.9,312.7 C114.8,311.0 119.7,309.2 124.6,307.4 C129.5,305.6 134.4,303.6 139.3,301.7 C144.2,299.8 149.1,297.8 154.0,296.0 C158.9,294.1 163.3,292.4 168.7,290.5 C174.1,288.6 183.4,285.6 186.3,284.6" fill="none" stroke="#a48d82" stroke-width="2.0" />
<path d="M80.9,335.1 C84.7,334.0 97.6,330.2 104.0,328.2 C110.3,326.2 114.0,324.8 119.0,322.9 C124.0,321.1 129.0,319.0 134.1,317.0 C139.1,314.9 144.1,312.8 149.1,310.7 C154.1,308.6 159.1,306.5 164.1,304.6 C169.2,302.7 173.7,301.0 179.2,299.1 C184.7,297.3 194.2,294.4 197.2,293.5" fill="none" stroke="#6f5a50" stroke-width="3.4" />
<path d="M80.9,335.1 C84.7,334.0 97.6,330.2 104.0,328.2 C110.3,326.2 114.0,324.8 119.0,322.9 C124.0,321.1 129.0,319.0 134.1,317.0 C139.1,314.9 144.1,312.8 149.1,310.7 C154.1,308.6 159.1,306.5 164.1,304.6 C169.2,302.7 173.7,301.0 179.2,299.1 C184.7,297.3 194.2,294.4 197.2,293.5" fill="none" stroke="#a48d82" stroke-width="2.0" />
<path d="M89.5,346.2 C93.4,345.0 106.6,341.1 113.1,338.8 C119.6,336.6 123.3,335.0 128.5,332.9 C133.6,330.8 138.7,328.4 143.8,326.2 C149.0,323.9 154.1,321.6 159.2,319.4 C164.4,317.3 169.5,315.2 174.6,313.3 C179.8,311.4 184.4,309.8 190.0,308.0 C195.7,306.3 205.4,303.6 208.5,302.8" fill="none" stroke="#6f5a50" stroke-width="3.4" />
<path d="M89.5,346.2 C93.4,345.0 106.6,341.1 113.1,338.8 C119.6,336.6 123.3,335.0 128.5,332.9 C133.6,330.8 138.7,328.4 143.8,326.2 C149.0,323.9 154.1,321.6 159.2,319.4 C164.4,317.3 169.5,315.2 174.6,313.3 C179.8,311.4 184.4,309.8 190.0,308.0 C195.7,306.3 205.4,303.6 208.5,302.8" fill="none" stroke="#a48d82" stroke-width="2.0" />
<path d="M98.6,357.5 C102.6,356.1 116.1,351.7 122.7,349.2 C129.4,346.7 133.2,344.7 138.4,342.4 C143.7,340.0 148.9,337.4 154.2,335.0 C159.4,332.6 164.7,330.2 169.9,328.0 C175.2,325.9 180.4,323.9 185.6,322.1 C190.9,320.3 195.6,319.0 201.4,317.4 C207.2,315.7 217.1,313.2 220.3,312.4" fill="none" stroke="#6f5a50" stroke-width="3.4" />
<path d="M98.6,357.5 C102.6,356.1 116.1,351.7 122.7,349.2 C129.4,346.7 133.2,344.7 138.4,342.4 C143.7,340.0 148.9,337.4 154.2,335.0 C159.4,332.6 164.7,330.2 169.9,328.0 C175.2,325.9 180.4,323.9 185.6,322.1 C190.9,320.3 195.6,319.0 201.4,317.4 C207.2,315.7 217.1,313.2 220.3,312.4" fill="none" stroke="#a48d82" stroke-width="2.0" />
<path d="M108.2,368.8 C112.4,367.2 126.1,362.0 132.9,359.1 C139.7,356.2 143.6,354.0 149.0,351.4 C154.3,348.8 159.7,346.1 165.1,343.6 C170.4,341.2 175.8,338.9 181.1,336.8 C186.5,334.8 191.9,333.0 197.2,331.4 C202.6,329.8 207.4,328.7 213.3,327.1 C219.2,325.6 229.4,323.0 232.6,322.2" fill="none" stroke="#6f5a50" stroke-width="3.4" />
<path d="M108.2,368.8 C112.4,367.2 126.1,362.0 132.9,359.1 C139.7,356.2 143.6,354.0 149.0,351.4 C154.3,348.8 159.7,346.1 165.1,343.6 C170.4,341.2 175.8,338.9 181.1,336.8 C186.5,334.8 191.9,333.0 197.2,331.4 C202.6,329.8 207.4,328.7 213.3,327.1 C219.2,325.6 229.4,323.0 232.6,322.2" fill="none" stroke="#a48d82" stroke-width="2.0" />
<path d="M118.2,379.9 C122.4,378.0 136.5,371.8 143.4,368.5 C150.4,365.2 154.4,362.8 159.8,360.1 C165.3,357.4 170.8,354.6 176.3,352.3 C181.8,349.9 187.2,347.8 192.7,346.0 C198.2,344.1 203.7,342.7 209.1,341.2 C214.6,339.8 219.5,338.9 225.5,337.3 C231.6,335.8 242.0,332.9 245.3,332.0" fill="none" stroke="#6f5a50" stroke-width="3.4" />
<path d="M118.2,379.9 C122.4,378.0 136.5,371.8 143.4,368.5 C150.4,365.2 154.4,362.8 159.8,360.1 C165.3,357.4 170.8,354.6 176.3,352.3 C181.8,349.9 187.2,347.8 192.7,346.0 C198.2,344.1 203.7,342.7 209.1,341.2 C214.6,339.8 219.5,338.9 225.5,337.3 C231.6,335.8 242.0,332.9 245.3,332.0" fill="none" stroke="#a48d82" stroke-width="2.0" />
<rect x="79.2" y="320.7" width="2.6" height="2.6" fill="#6f9c72" opacity="0.8"/>
<rect x="98.8" y="314.6" width="2.6" height="2.6" fill="#6f9c72" opacity="0.8"/>
<rect x="118.4" y="307.9" width="2.6" height="2.6" fill="#6f9c72" opacity="0.8"/>
<rect x="138.0" y="300.4" width="2.6" height="2.6" fill="#6f9c72" opacity="0.8"/>
<rect x="157.6" y="292.8" width="2.6" height="2.6" fill="#6f9c72" opacity="0.8"/>
<rect x="177.2" y="285.9" width="2.6" height="2.6" fill="#6f9c72" opacity="0.8"/>
<rect x="87.6" y="331.5" width="2.6" height="2.6" fill="#6f9c72" opacity="0.8"/>
<rect x="107.7" y="325.2" width="2.6" height="2.6" fill="#6f9c72" opacity="0.8"/>
<rect x="127.7" y="317.7" width="2.6" height="2.6" fill="#6f9c72" opacity="0.8"/>
<rect x="147.8" y="309.4" width="2.6" height="2.6" fill="#6f9c72" opacity="0.8"/>
<rect x="167.9" y="301.4" width="2.6" height="2.6" fill="#6f9c72" opacity="0.8"/>
<rect x="187.9" y="294.6" width="2.6" height="2.6" fill="#6f9c72" opacity="0.8"/>
<rect x="96.4" y="342.6" width="2.6" height="2.6" fill="#6f9c72" opacity="0.8"/>
<rect x="116.9" y="335.7" width="2.6" height="2.6" fill="#6f9c72" opacity="0.8"/>
<rect x="137.4" y="327.2" width="2.6" height="2.6" fill="#6f9c72" opacity="0.8"/>
<rect x="157.9" y="318.1" width="2.6" height="2.6" fill="#6f9c72" opacity="0.8"/>
<rect x="178.5" y="310.1" width="2.6" height="2.6" fill="#6f9c72" opacity="0.8"/>
<rect x="199.0" y="303.7" width="2.6" height="2.6" fill="#6f9c72" opacity="0.8"/>
<rect x="105.7" y="353.7" width="2.6" height="2.6" fill="#6f9c72" opacity="0.8"/>
<rect x="126.7" y="345.7" width="2.6" height="2.6" fill="#6f9c72" opacity="0.8"/>
<rect x="147.6" y="336.2" width="2.6" height="2.6" fill="#6f9c72" opacity="0.8"/>
<rect x="168.6" y="326.7" width="2.6" height="2.6" fill="#6f9c72" opacity="0.8"/>
<rect x="189.6" y="319.1" width="2.6" height="2.6" fill="#6f9c72" opacity="0.8"/>
<rect x="210.6" y="313.3" width="2.6" height="2.6" fill="#6f9c72" opacity="0.8"/>
<rect x="115.5" y="364.5" width="2.6" height="2.6" fill="#6f9c72" opacity="0.8"/>
<rect x="137.0" y="355.3" width="2.6" height="2.6" fill="#6f9c72" opacity="0.8"/>
<rect x="158.4" y="344.9" width="2.6" height="2.6" fill="#6f9c72" opacity="0.8"/>
<rect x="179.8" y="335.5" width="2.6" height="2.6" fill="#6f9c72" opacity="0.8"/>
<rect x="201.3" y="328.6" width="2.6" height="2.6" fill="#6f9c72" opacity="0.8"/>
<rect x="222.7" y="323.2" width="2.6" height="2.6" fill="#6f9c72" opacity="0.8"/>
<rect x="125.7" y="375.0" width="2.6" height="2.6" fill="#6f9c72" opacity="0.8"/>
<rect x="147.6" y="364.4" width="2.6" height="2.6" fill="#6f9c72" opacity="0.8"/>
<rect x="169.5" y="353.4" width="2.6" height="2.6" fill="#6f9c72" opacity="0.8"/>
<rect x="191.4" y="344.7" width="2.6" height="2.6" fill="#6f9c72" opacity="0.8"/>
<rect x="213.3" y="338.6" width="2.6" height="2.6" fill="#6f9c72" opacity="0.8"/>
<rect x="235.2" y="333.3" width="2.6" height="2.6" fill="#6f9c72" opacity="0.8"/>
<text x="25.7" y="281.6" font-size="16.4" stroke="#1e1e1e" stroke-width="0.28" textLength="118.6" lengthAdjust="spacingAndGlyphs" >Transistor array</text>
<line x1="109.6" y1="289.7" x2="133.4" y2="330.6" stroke="#111" stroke-width="1.3" />
<circle cx="133.4" cy="330.6" r="1.9" fill="#111" />
<text x="30.5" y="421.2" font-size="16.4" stroke="#1e1e1e" stroke-width="0.28" textLength="67.8" lengthAdjust="spacingAndGlyphs" >Hydrogel</text>
<text x="29.9" y="441.0" font-size="16.4" stroke="#1e1e1e" stroke-width="0.28" textLength="69.8" lengthAdjust="spacingAndGlyphs" >substrate</text>
<line x1="79.8" y1="403.2" x2="98.6" y2="386.4" stroke="#111" stroke-width="1.3" />
<circle cx="98.6" cy="386.4" r="1.9" fill="#111" />
<text x="177.7" y="417.0" font-size="16.4" stroke="#1e1e1e" stroke-width="0.28" textLength="73.8" lengthAdjust="spacingAndGlyphs" >Patterned</text>
<text x="164.1" y="436.4" font-size="16.4" stroke="#1e1e1e" stroke-width="0.28" textLength="102.6" lengthAdjust="spacingAndGlyphs" >soft interlayer</text>
<line x1="205.6" y1="401.0" x2="183.0" y2="369.3" stroke="#111" stroke-width="1.3" />
<circle cx="183.0" cy="369.3" r="1.9" fill="#111" />
<clipPath id="cpf"><rect x="285.3" y="261.2" width="237.99999999999994" height="185.8"/></clipPath>
<g clip-path="url(#cpf)">
<rect x="285.3" y="261.2" width="238.0" height="185.8" fill="url(#gfbg)" stroke="none" stroke-width="1" />
<ellipse cx="410" cy="335" rx="100" ry="70" fill="#efeae2" opacity="0.9" filter="url(#fblur2)"/>
<path d="M284,303 L297,306 C304,313 312,320 318,330 C324,338 328,346 327.5,353 C327,360 324,366 318,371 C312,376 302,382 292.6,385 L284,388 Z" fill="url(#gleft)" stroke="none" stroke-width="1" filter="url(#fsoft2)"/>
<path d="M297,306 C304,313 312,320 318,330 C324,338 328,346 327.5,353 C327,360 324,366 318,371 C312,376 302,382 292.6,385" fill="none" stroke="#f4f2ef" stroke-width="1.1" />
<rect x="510" y="300" width="16" height="120" fill="#c9c6c2" opacity="0.6" filter="url(#fblur3)"/>
<rect x="330" y="430" width="120" height="20" fill="#cfccc7" opacity="0.6" filter="url(#fblur3)"/>
<path d="M318,395 C335,394 345,398 355,398 L440,396" fill="none" stroke="#f4f3f0" stroke-width="1.0" opacity="0.9"/>
<path d="M478,318 C470,335 472,360 485,372" fill="none" stroke="#c4c1bd" stroke-width="0.8" />
<path d="M285,261 L339,261 C338.5,266 337,270 335,274 C332,280 328,286 321,290 C315,294 308,297 300,300.2 C295,302 290,305 285,307.5 Z" fill="url(#gglove1)" stroke="none" stroke-width="1" />
<path d="M480,297 C480,303 481,307 483,310 C486,314 490,316 494,316.5 L524,316.5 L524,300 Z" fill="#1e1a58" stroke="none" stroke-width="1" />
<path d="M476.2,261 L524,261 L524,304 C515,305 500,303 490,300.5 C484,299 480,297.5 478,296 C473,292 470,289 469,285 C466,279 466.5,275 468.5,271 C470,267 473,263 476.2,261 Z" fill="url(#gglove2)" stroke="none" stroke-width="1" />
<path d="M285,387.0 C292,387.5 300,391.5 307,400 C312,406 316,413 319,420 C322,427 325,434 327,440 C328,443 329,446 329.6,448 L285,448 Z" fill="url(#gglove3)" stroke="none" stroke-width="1" />
<path d="M524,408 C518,415 512,425 508,435 C506,440 504,444 503,448 L524,448 Z" fill="url(#gglove3)" stroke="none" stroke-width="1" />
<path d="M355.4,330.3 Q401.9,330.8 448.3,329.0" fill="none" stroke="#6e5b42" stroke-width="1.6" opacity="0.9"/>
<path d="M358,343.2 Q401.5,343.9 445,342.2" fill="none" stroke="#6e5b42" stroke-width="1.6" opacity="0.9"/>
<path d="M356,355.6 Q401.0,356.7 446,355.4" fill="none" stroke="#6e5b42" stroke-width="1.6" opacity="0.9"/>
<path d="M352,366.6 Q396.0,368.1 440,367.2" fill="none" stroke="#6e5b42" stroke-width="1.6" opacity="0.9"/>
<path d="M341.5,377.6 Q390.8,379.2 440,378.5" fill="none" stroke="#6e5b42" stroke-width="1.6" opacity="0.9"/>
<path d="M365.5,327 Q359,360 348,385" fill="none" stroke="#6e5b42" stroke-width="1.1" opacity="0.85"/>
<path d="M384,327 Q382,360 376,385" fill="none" stroke="#6e5b42" stroke-width="1.1" opacity="0.85"/>
<path d="M403.5,327 Q403.5,360 403.5,386" fill="none" stroke="#6e5b42" stroke-width="1.1" opacity="0.85"/>
<path d="M423,327 Q424,360 430,385" fill="none" stroke="#6e5b42" stroke-width="1.1" opacity="0.85"/>
<path d="M441.5,327 Q444,350 447,372" fill="none" stroke="#6e5b42" stroke-width="1.1" opacity="0.85"/>
<rect x="419.3" y="363.6" width="9.6" height="9.9" fill="none" stroke="#333" stroke-width="1.0" stroke-dasharray="1 1"/>
<rect x="439.0" y="366.3" width="77.9" height="73.7" fill="#ece4e0" stroke="none" stroke-width="1" />
<clipPath id="cpi"><rect x="439" y="366.3" width="77.9" height="73.7"/></clipPath><g clip-path="url(#cpi)">
<ellipse cx="483.6" cy="400.6" rx="17" ry="10" fill="#bdb2ac" opacity="0.55"/>
<path d="M472.3,366 C474,385 476,405 476.8,425.6" fill="none" stroke="#9a918c" stroke-width="2.2" opacity="0.55"/>
<path d="M480.5,366 C481,385 482,405 481.5,420" fill="none" stroke="#9a918c" stroke-width="2.0" opacity="0.5"/>
<path d="M437,395 L446,395 C458,395 466,387 466.5,376 L466.5,364" stroke="#d0d4e0" stroke-width="4.0" fill="none"/>
<path d="M519,395.6 L510,395.6 C497,395.6 486,388 485.5,376 L485.5,364" stroke="#d0d4e0" stroke-width="4.0" fill="none"/>
<path d="M437,412 L446,412 C460,412 470,420 470.5,432 L470.5,442" stroke="#d0d4e0" stroke-width="4.0" fill="none"/>
<path d="M519,411 L512,411 C499,411 490,419 489.5,430 L489.5,442" stroke="#d0d4e0" stroke-width="4.0" fill="none"/>
<path d="M507.7,448 C509,435 513,422 520,413 L520,448 Z" fill="#38349a" stroke="none" stroke-width="1" />
</g>
<rect x="439.0" y="366.3" width="77.9" height="73.7" fill="none" stroke="#222" stroke-width="1.1" stroke-dasharray="1.1 1.1"/>
<rect x="500.5" y="433.4" width="10.5" height="2.6" fill="#000" stroke="none" stroke-width="1" />
<line x1="426.0" y1="423.5" x2="454.5" y2="418.2" stroke="#777" stroke-width="0.9" />
<path d="M457.2,417.5 L452.5,415.8 L453.5,420.2 Z" fill="#333" stroke="none" stroke-width="1" />
</g>
<text x="332.7" y="294.7" font-size="15.2" stroke="#1e1e1e" stroke-width="0.28" textLength="121.8" lengthAdjust="spacingAndGlyphs" >Transistor array on</text>
<text x="317.0" y="312.6" font-size="15.2" stroke="#1e1e1e" stroke-width="0.28" textLength="154.6" lengthAdjust="spacingAndGlyphs" >patterned soft interlayer</text>
<text x="350.8" y="416.2" font-size="16.2" stroke="#1e1e1e" stroke-width="0.28" textLength="71.0" lengthAdjust="spacingAndGlyphs" >Interlayer</text>
<text x="350.8" y="436.6" font-size="16.2" stroke="#1e1e1e" stroke-width="0.28" textLength="71.0" lengthAdjust="spacingAndGlyphs" >boundary</text>
</svg></body></html>
